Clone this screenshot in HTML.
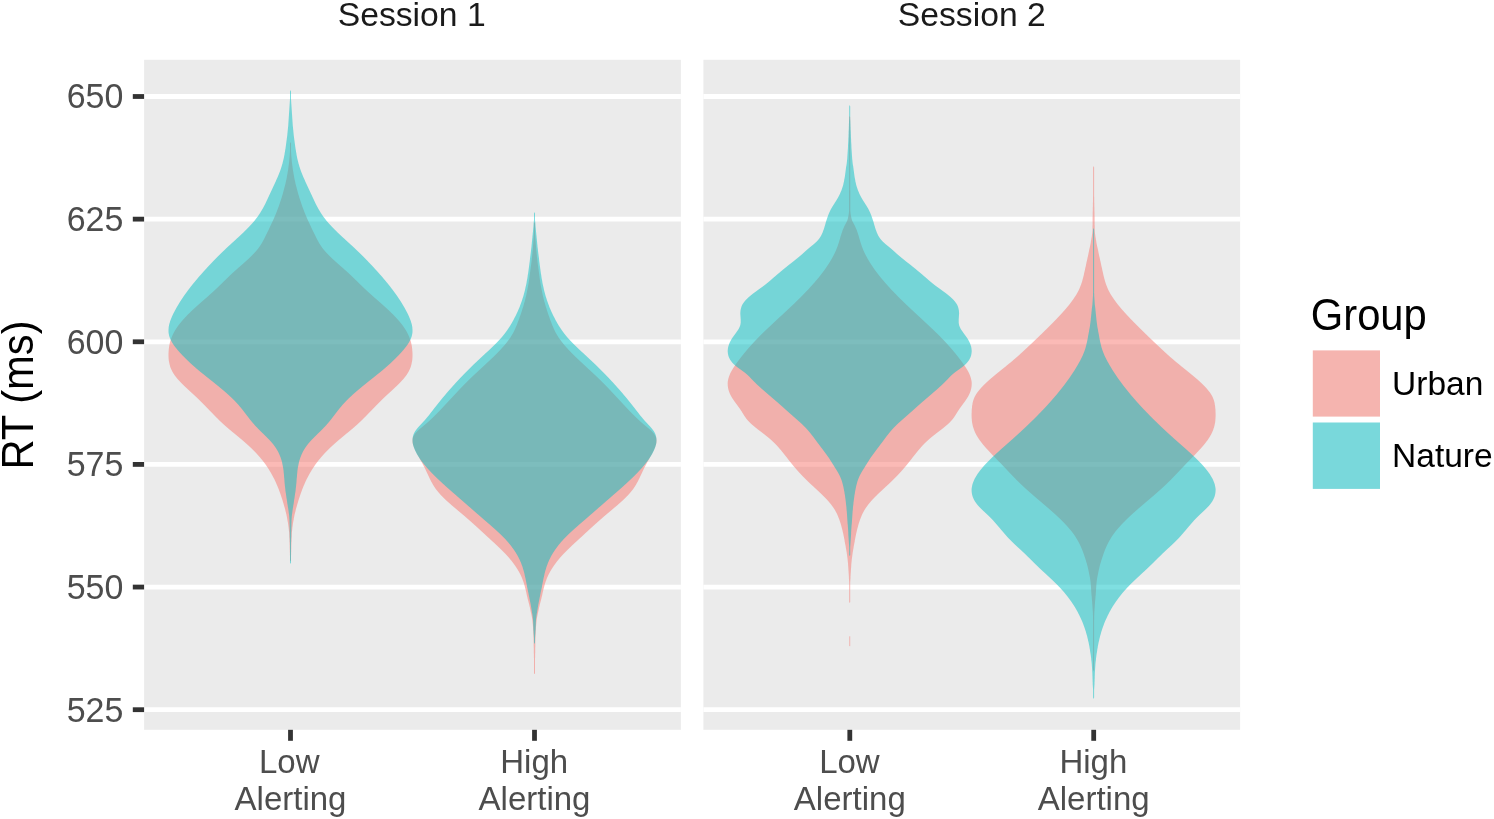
<!DOCTYPE html>
<html><head><meta charset="utf-8"><title>Violin plot</title>
<style>html,body{margin:0;padding:0;background:#fff}svg{display:block}</style></head>
<body>
<svg width="1494" height="819" viewBox="0 0 1494 819" font-family="'Liberation Sans', Arial, sans-serif">
<rect width="1494" height="819" fill="#fff"/>
<rect x="144.1" y="59.8" width="536.8" height="670.0" fill="#EBEBEB"/>
<line x1="144.1" x2="680.9" y1="96.50" y2="96.50" stroke="#fff" stroke-width="4.8"/>
<line x1="144.1" x2="680.9" y1="219.14" y2="219.14" stroke="#fff" stroke-width="4.8"/>
<line x1="144.1" x2="680.9" y1="341.78" y2="341.78" stroke="#fff" stroke-width="4.8"/>
<line x1="144.1" x2="680.9" y1="464.42" y2="464.42" stroke="#fff" stroke-width="4.8"/>
<line x1="144.1" x2="680.9" y1="587.06" y2="587.06" stroke="#fff" stroke-width="4.8"/>
<line x1="144.1" x2="680.9" y1="709.70" y2="709.70" stroke="#fff" stroke-width="4.8"/>
<rect x="703.4" y="59.8" width="536.7" height="670.0" fill="#EBEBEB"/>
<line x1="703.4" x2="1240.1" y1="96.50" y2="96.50" stroke="#fff" stroke-width="4.8"/>
<line x1="703.4" x2="1240.1" y1="219.14" y2="219.14" stroke="#fff" stroke-width="4.8"/>
<line x1="703.4" x2="1240.1" y1="341.78" y2="341.78" stroke="#fff" stroke-width="4.8"/>
<line x1="703.4" x2="1240.1" y1="464.42" y2="464.42" stroke="#fff" stroke-width="4.8"/>
<line x1="703.4" x2="1240.1" y1="587.06" y2="587.06" stroke="#fff" stroke-width="4.8"/>
<line x1="703.4" x2="1240.1" y1="709.70" y2="709.70" stroke="#fff" stroke-width="4.8"/>
<g fill-opacity="0.5" stroke="none">
<path d="M290.5,142.0 L290.0,143.5 L290.0,145.0 L290.0,146.5 L290.0,148.0 L290.0,149.5 L290.0,151.0 L289.9,152.5 L289.8,154.0 L289.7,155.5 L289.6,157.0 L289.4,158.5 L289.3,160.0 L289.2,161.5 L289.0,163.0 L288.8,164.5 L288.6,166.0 L288.4,167.5 L288.2,169.0 L288.0,170.5 L287.7,172.0 L287.5,173.5 L287.2,175.0 L286.9,176.5 L286.7,178.0 L286.4,179.5 L286.0,181.0 L285.7,182.5 L285.4,184.0 L285.0,185.5 L284.6,187.0 L284.2,188.5 L283.8,190.0 L283.4,191.5 L283.0,193.0 L282.6,194.5 L282.1,196.0 L281.7,197.5 L281.2,199.0 L280.7,200.5 L280.2,202.0 L279.7,203.5 L279.2,205.0 L278.7,206.5 L278.1,208.0 L277.5,209.5 L277.0,211.0 L276.4,212.5 L275.8,214.0 L275.2,215.5 L274.5,217.0 L273.9,218.5 L273.2,220.0 L272.5,221.5 L271.8,223.0 L271.1,224.5 L270.4,226.0 L269.7,227.5 L269.0,229.0 L268.3,230.5 L267.5,232.0 L266.8,233.5 L266.0,235.0 L265.3,236.5 L264.6,238.0 L263.8,239.5 L263.0,241.0 L262.2,242.5 L261.3,244.0 L260.3,245.5 L259.3,247.0 L258.2,248.5 L257.0,250.0 L255.7,251.5 L254.3,253.0 L252.9,254.5 L251.4,256.0 L249.9,257.5 L248.3,259.0 L246.6,260.5 L245.0,262.0 L243.3,263.5 L241.6,265.0 L239.9,266.5 L238.1,268.0 L236.5,269.5 L234.8,271.0 L233.1,272.5 L231.5,274.0 L229.9,275.5 L228.4,277.0 L226.8,278.5 L225.3,280.0 L223.7,281.5 L222.2,283.0 L220.7,284.5 L219.1,286.0 L217.6,287.5 L216.0,289.0 L214.4,290.5 L212.8,292.0 L211.1,293.5 L209.4,295.0 L207.8,296.5 L206.1,298.0 L204.3,299.5 L202.6,301.0 L200.9,302.5 L199.2,304.0 L197.5,305.5 L195.9,307.0 L194.2,308.5 L192.6,310.0 L191.0,311.5 L189.5,313.0 L187.9,314.5 L186.5,316.0 L185.1,317.5 L183.7,319.0 L182.4,320.5 L181.1,322.0 L179.9,323.5 L178.7,325.0 L177.6,326.5 L176.6,328.0 L175.6,329.5 L174.7,331.0 L173.9,332.5 L173.1,334.0 L172.4,335.5 L171.8,337.0 L171.2,338.5 L170.7,340.0 L170.2,341.5 L169.8,343.0 L169.5,344.5 L169.2,346.0 L169.0,347.5 L168.8,349.0 L168.7,350.5 L168.6,352.0 L168.5,353.5 L168.5,355.0 L168.5,356.5 L168.6,358.0 L168.7,359.5 L168.9,361.0 L169.2,362.5 L169.5,364.0 L169.9,365.5 L170.3,367.0 L170.9,368.5 L171.6,370.0 L172.3,371.5 L173.2,373.0 L174.1,374.5 L175.2,376.0 L176.4,377.5 L177.6,379.0 L179.0,380.5 L180.4,382.0 L181.8,383.5 L183.3,385.0 L184.9,386.5 L186.5,388.0 L188.1,389.5 L189.7,391.0 L191.3,392.5 L193.0,394.0 L194.6,395.5 L196.2,397.0 L197.8,398.5 L199.3,400.0 L200.8,401.5 L202.3,403.0 L203.8,404.5 L205.3,406.0 L206.7,407.5 L208.2,409.0 L209.6,410.5 L211.1,412.0 L212.6,413.5 L214.0,415.0 L215.5,416.5 L217.0,418.0 L218.5,419.5 L220.0,421.0 L221.6,422.5 L223.2,424.0 L224.9,425.5 L226.6,427.0 L228.3,428.5 L230.1,430.0 L231.9,431.5 L233.8,433.0 L235.6,434.5 L237.4,436.0 L239.2,437.5 L241.0,439.0 L242.8,440.5 L244.5,442.0 L246.2,443.5 L247.9,445.0 L249.5,446.5 L251.1,448.0 L252.6,449.5 L254.1,451.0 L255.6,452.5 L257.0,454.0 L258.3,455.5 L259.7,457.0 L260.9,458.5 L262.2,460.0 L263.3,461.5 L264.5,463.0 L265.6,464.5 L266.6,466.0 L267.6,467.5 L268.6,469.0 L269.5,470.5 L270.4,472.0 L271.3,473.5 L272.1,475.0 L272.9,476.5 L273.7,478.0 L274.5,479.5 L275.2,481.0 L275.9,482.5 L276.5,484.0 L277.2,485.5 L277.8,487.0 L278.4,488.5 L279.0,490.0 L279.5,491.5 L280.1,493.0 L280.6,494.5 L281.1,496.0 L281.6,497.5 L282.1,499.0 L282.6,500.5 L283.0,502.0 L283.5,503.5 L283.9,505.0 L284.3,506.5 L284.8,508.0 L285.2,509.5 L285.5,511.0 L285.9,512.5 L286.3,514.0 L286.6,515.5 L286.9,517.0 L287.2,518.5 L287.4,520.0 L287.7,521.5 L288.0,523.0 L288.2,524.5 L288.4,526.0 L288.6,527.5 L288.8,529.0 L288.9,530.5 L289.1,532.0 L289.2,533.5 L289.3,535.0 L289.3,536.5 L289.4,538.0 L289.5,539.5 L289.5,541.0 L289.6,542.5 L289.6,544.0 L289.7,545.5 L289.7,547.0 L289.7,548.5 L289.8,550.0 L289.8,551.5 L289.9,553.0 L289.9,554.5 L290.0,556.0 L290.0,557.5 L290.0,559.0 L290.0,560.5 L290.5,561.0 L290.5,561.0 L291.0,560.5 L291.0,559.0 L291.0,557.5 L291.0,556.0 L291.1,554.5 L291.1,553.0 L291.2,551.5 L291.2,550.0 L291.3,548.5 L291.3,547.0 L291.3,545.5 L291.4,544.0 L291.4,542.5 L291.5,541.0 L291.5,539.5 L291.6,538.0 L291.7,536.5 L291.7,535.0 L291.8,533.5 L291.9,532.0 L292.1,530.5 L292.2,529.0 L292.4,527.5 L292.6,526.0 L292.8,524.5 L293.0,523.0 L293.3,521.5 L293.6,520.0 L293.8,518.5 L294.1,517.0 L294.4,515.5 L294.7,514.0 L295.1,512.5 L295.5,511.0 L295.8,509.5 L296.2,508.0 L296.7,506.5 L297.1,505.0 L297.5,503.5 L298.0,502.0 L298.4,500.5 L298.9,499.0 L299.4,497.5 L299.9,496.0 L300.4,494.5 L300.9,493.0 L301.5,491.5 L302.0,490.0 L302.6,488.5 L303.2,487.0 L303.8,485.5 L304.5,484.0 L305.1,482.5 L305.8,481.0 L306.5,479.5 L307.3,478.0 L308.1,476.5 L308.9,475.0 L309.7,473.5 L310.6,472.0 L311.5,470.5 L312.4,469.0 L313.4,467.5 L314.4,466.0 L315.4,464.5 L316.5,463.0 L317.7,461.5 L318.8,460.0 L320.1,458.5 L321.3,457.0 L322.7,455.5 L324.0,454.0 L325.4,452.5 L326.9,451.0 L328.4,449.5 L329.9,448.0 L331.5,446.5 L333.1,445.0 L334.8,443.5 L336.5,442.0 L338.2,440.5 L340.0,439.0 L341.8,437.5 L343.6,436.0 L345.4,434.5 L347.2,433.0 L349.1,431.5 L350.9,430.0 L352.7,428.5 L354.4,427.0 L356.1,425.5 L357.8,424.0 L359.4,422.5 L361.0,421.0 L362.5,419.5 L364.0,418.0 L365.5,416.5 L367.0,415.0 L368.4,413.5 L369.9,412.0 L371.4,410.5 L372.8,409.0 L374.3,407.5 L375.7,406.0 L377.2,404.5 L378.7,403.0 L380.2,401.5 L381.7,400.0 L383.2,398.5 L384.8,397.0 L386.4,395.5 L388.0,394.0 L389.7,392.5 L391.3,391.0 L392.9,389.5 L394.5,388.0 L396.1,386.5 L397.7,385.0 L399.2,383.5 L400.6,382.0 L402.0,380.5 L403.4,379.0 L404.6,377.5 L405.8,376.0 L406.9,374.5 L407.8,373.0 L408.7,371.5 L409.4,370.0 L410.1,368.5 L410.7,367.0 L411.1,365.5 L411.5,364.0 L411.8,362.5 L412.1,361.0 L412.3,359.5 L412.4,358.0 L412.5,356.5 L412.5,355.0 L412.5,353.5 L412.4,352.0 L412.3,350.5 L412.2,349.0 L412.0,347.5 L411.8,346.0 L411.5,344.5 L411.2,343.0 L410.8,341.5 L410.3,340.0 L409.8,338.5 L409.2,337.0 L408.6,335.5 L407.9,334.0 L407.1,332.5 L406.3,331.0 L405.4,329.5 L404.4,328.0 L403.4,326.5 L402.3,325.0 L401.1,323.5 L399.9,322.0 L398.6,320.5 L397.3,319.0 L395.9,317.5 L394.5,316.0 L393.1,314.5 L391.5,313.0 L390.0,311.5 L388.4,310.0 L386.8,308.5 L385.1,307.0 L383.5,305.5 L381.8,304.0 L380.1,302.5 L378.4,301.0 L376.7,299.5 L374.9,298.0 L373.2,296.5 L371.6,295.0 L369.9,293.5 L368.2,292.0 L366.6,290.5 L365.0,289.0 L363.4,287.5 L361.9,286.0 L360.3,284.5 L358.8,283.0 L357.3,281.5 L355.7,280.0 L354.2,278.5 L352.6,277.0 L351.1,275.5 L349.5,274.0 L347.9,272.5 L346.2,271.0 L344.5,269.5 L342.9,268.0 L341.1,266.5 L339.4,265.0 L337.7,263.5 L336.0,262.0 L334.4,260.5 L332.7,259.0 L331.1,257.5 L329.6,256.0 L328.1,254.5 L326.7,253.0 L325.3,251.5 L324.0,250.0 L322.8,248.5 L321.7,247.0 L320.7,245.5 L319.7,244.0 L318.8,242.5 L318.0,241.0 L317.2,239.5 L316.4,238.0 L315.7,236.5 L315.0,235.0 L314.2,233.5 L313.5,232.0 L312.7,230.5 L312.0,229.0 L311.3,227.5 L310.6,226.0 L309.9,224.5 L309.2,223.0 L308.5,221.5 L307.8,220.0 L307.1,218.5 L306.5,217.0 L305.8,215.5 L305.2,214.0 L304.6,212.5 L304.0,211.0 L303.5,209.5 L302.9,208.0 L302.3,206.5 L301.8,205.0 L301.3,203.5 L300.8,202.0 L300.3,200.5 L299.8,199.0 L299.3,197.5 L298.9,196.0 L298.4,194.5 L298.0,193.0 L297.6,191.5 L297.2,190.0 L296.8,188.5 L296.4,187.0 L296.0,185.5 L295.6,184.0 L295.3,182.5 L295.0,181.0 L294.6,179.5 L294.3,178.0 L294.1,176.5 L293.8,175.0 L293.5,173.5 L293.3,172.0 L293.0,170.5 L292.8,169.0 L292.6,167.5 L292.4,166.0 L292.2,164.5 L292.0,163.0 L291.8,161.5 L291.7,160.0 L291.6,158.5 L291.4,157.0 L291.3,155.5 L291.2,154.0 L291.1,152.5 L291.0,151.0 L291.0,149.5 L291.0,148.0 L291.0,146.5 L291.0,145.0 L291.0,143.5 L290.5,142.0Z" fill="#F8766D"/>
<path d="M290.5,90.0 L290.0,91.5 L290.0,93.0 L290.0,94.5 L290.0,96.0 L290.0,97.5 L290.0,99.0 L289.9,100.5 L289.8,102.0 L289.7,103.5 L289.6,105.0 L289.5,106.5 L289.4,108.0 L289.3,109.5 L289.2,111.0 L289.1,112.5 L289.0,114.0 L288.9,115.5 L288.8,117.0 L288.7,118.5 L288.6,120.0 L288.5,121.5 L288.4,123.0 L288.3,124.5 L288.2,126.0 L288.0,127.5 L287.9,129.0 L287.7,130.5 L287.6,132.0 L287.4,133.5 L287.3,135.0 L287.1,136.5 L286.9,138.0 L286.7,139.5 L286.5,141.0 L286.3,142.5 L286.1,144.0 L285.9,145.5 L285.7,147.0 L285.5,148.5 L285.2,150.0 L285.0,151.5 L284.7,153.0 L284.5,154.5 L284.2,156.0 L283.9,157.5 L283.6,159.0 L283.2,160.5 L282.8,162.0 L282.5,163.5 L282.0,165.0 L281.6,166.5 L281.1,168.0 L280.6,169.5 L280.1,171.0 L279.5,172.5 L278.9,174.0 L278.3,175.5 L277.7,177.0 L277.0,178.5 L276.3,180.0 L275.7,181.5 L275.0,183.0 L274.3,184.5 L273.6,186.0 L272.9,187.5 L272.2,189.0 L271.5,190.5 L270.8,192.0 L270.1,193.5 L269.4,195.0 L268.7,196.5 L268.0,198.0 L267.3,199.5 L266.6,201.0 L265.9,202.5 L265.2,204.0 L264.4,205.5 L263.6,207.0 L262.8,208.5 L261.9,210.0 L261.0,211.5 L260.1,213.0 L259.1,214.5 L258.1,216.0 L257.0,217.5 L255.8,219.0 L254.7,220.5 L253.4,222.0 L252.1,223.5 L250.7,225.0 L249.3,226.5 L247.9,228.0 L246.4,229.5 L244.9,231.0 L243.4,232.5 L241.8,234.0 L240.2,235.5 L238.6,237.0 L236.9,238.5 L235.3,240.0 L233.7,241.5 L232.0,243.0 L230.4,244.5 L228.7,246.0 L227.1,247.5 L225.5,249.0 L224.0,250.5 L222.4,252.0 L220.9,253.5 L219.3,255.0 L217.8,256.5 L216.3,258.0 L214.9,259.5 L213.4,261.0 L212.0,262.5 L210.6,264.0 L209.1,265.5 L207.7,267.0 L206.4,268.5 L205.0,270.0 L203.6,271.5 L202.3,273.0 L201.0,274.5 L199.6,276.0 L198.3,277.5 L197.1,279.0 L195.8,280.5 L194.6,282.0 L193.3,283.5 L192.1,285.0 L190.9,286.5 L189.8,288.0 L188.6,289.5 L187.5,291.0 L186.4,292.5 L185.3,294.0 L184.2,295.5 L183.2,297.0 L182.2,298.5 L181.2,300.0 L180.2,301.5 L179.3,303.0 L178.4,304.5 L177.5,306.0 L176.6,307.5 L175.8,309.0 L175.0,310.5 L174.2,312.0 L173.4,313.5 L172.7,315.0 L172.0,316.5 L171.4,318.0 L170.8,319.5 L170.2,321.0 L169.8,322.5 L169.3,324.0 L169.0,325.5 L168.7,327.0 L168.6,328.5 L168.5,330.0 L168.5,331.5 L168.6,333.0 L168.9,334.5 L169.2,336.0 L169.7,337.5 L170.3,339.0 L171.0,340.5 L171.8,342.0 L172.7,343.5 L173.7,345.0 L174.8,346.5 L176.0,348.0 L177.2,349.5 L178.5,351.0 L179.8,352.5 L181.2,354.0 L182.6,355.5 L184.1,357.0 L185.6,358.5 L187.1,360.0 L188.7,361.5 L190.2,363.0 L191.9,364.5 L193.6,366.0 L195.3,367.5 L197.0,369.0 L198.8,370.5 L200.6,372.0 L202.5,373.5 L204.4,375.0 L206.2,376.5 L208.1,378.0 L210.0,379.5 L211.9,381.0 L213.8,382.5 L215.6,384.0 L217.5,385.5 L219.3,387.0 L221.1,388.5 L222.9,390.0 L224.7,391.5 L226.4,393.0 L228.1,394.5 L229.7,396.0 L231.3,397.5 L232.9,399.0 L234.4,400.5 L235.8,402.0 L237.2,403.5 L238.6,405.0 L239.8,406.5 L241.1,408.0 L242.3,409.5 L243.5,411.0 L244.6,412.5 L245.8,414.0 L246.9,415.5 L248.1,417.0 L249.2,418.5 L250.4,420.0 L251.6,421.5 L252.9,423.0 L254.2,424.5 L255.5,426.0 L257.0,427.5 L258.4,429.0 L259.9,430.5 L261.4,432.0 L263.0,433.5 L264.5,435.0 L266.0,436.5 L267.5,438.0 L269.0,439.5 L270.4,441.0 L271.7,442.5 L273.0,444.0 L274.1,445.5 L275.2,447.0 L276.2,448.5 L277.1,450.0 L278.0,451.5 L278.7,453.0 L279.4,454.5 L280.0,456.0 L280.6,457.5 L281.1,459.0 L281.6,460.5 L282.0,462.0 L282.3,463.5 L282.6,465.0 L282.9,466.5 L283.2,468.0 L283.4,469.5 L283.6,471.0 L283.7,472.5 L283.9,474.0 L284.0,475.5 L284.1,477.0 L284.3,478.5 L284.4,480.0 L284.5,481.5 L284.6,483.0 L284.8,484.5 L284.9,486.0 L285.1,487.5 L285.3,489.0 L285.4,490.5 L285.6,492.0 L285.9,493.5 L286.1,495.0 L286.3,496.5 L286.5,498.0 L286.8,499.5 L287.0,501.0 L287.2,502.5 L287.4,504.0 L287.7,505.5 L287.9,507.0 L288.2,508.5 L288.4,510.0 L288.6,511.5 L288.8,513.0 L289.0,514.5 L289.2,516.0 L289.3,517.5 L289.4,519.0 L289.5,520.5 L289.5,522.0 L289.6,523.5 L289.6,525.0 L289.6,526.5 L289.7,528.0 L289.7,529.5 L289.7,531.0 L289.8,532.5 L289.8,534.0 L289.8,535.5 L289.8,537.0 L289.9,538.5 L289.9,540.0 L289.9,541.5 L290.0,543.0 L290.0,544.5 L290.0,546.0 L290.0,547.5 L290.0,549.0 L290.0,550.5 L290.0,552.0 L290.0,553.5 L290.0,555.0 L290.0,556.5 L290.0,558.0 L290.0,559.5 L290.0,561.0 L290.0,562.5 L290.5,564.0 L290.5,564.0 L291.0,562.5 L291.0,561.0 L291.0,559.5 L291.0,558.0 L291.0,556.5 L291.0,555.0 L291.0,553.5 L291.0,552.0 L291.0,550.5 L291.0,549.0 L291.0,547.5 L291.0,546.0 L291.0,544.5 L291.0,543.0 L291.1,541.5 L291.1,540.0 L291.1,538.5 L291.2,537.0 L291.2,535.5 L291.2,534.0 L291.2,532.5 L291.3,531.0 L291.3,529.5 L291.3,528.0 L291.4,526.5 L291.4,525.0 L291.4,523.5 L291.5,522.0 L291.5,520.5 L291.6,519.0 L291.7,517.5 L291.8,516.0 L292.0,514.5 L292.2,513.0 L292.4,511.5 L292.6,510.0 L292.8,508.5 L293.1,507.0 L293.3,505.5 L293.6,504.0 L293.8,502.5 L294.0,501.0 L294.2,499.5 L294.5,498.0 L294.7,496.5 L294.9,495.0 L295.1,493.5 L295.4,492.0 L295.6,490.5 L295.7,489.0 L295.9,487.5 L296.1,486.0 L296.2,484.5 L296.4,483.0 L296.5,481.5 L296.6,480.0 L296.7,478.5 L296.9,477.0 L297.0,475.5 L297.1,474.0 L297.3,472.5 L297.4,471.0 L297.6,469.5 L297.8,468.0 L298.1,466.5 L298.4,465.0 L298.7,463.5 L299.0,462.0 L299.4,460.5 L299.9,459.0 L300.4,457.5 L301.0,456.0 L301.6,454.5 L302.3,453.0 L303.0,451.5 L303.9,450.0 L304.8,448.5 L305.8,447.0 L306.9,445.5 L308.0,444.0 L309.3,442.5 L310.6,441.0 L312.0,439.5 L313.5,438.0 L315.0,436.5 L316.5,435.0 L318.0,433.5 L319.6,432.0 L321.1,430.5 L322.6,429.0 L324.0,427.5 L325.5,426.0 L326.8,424.5 L328.1,423.0 L329.4,421.5 L330.6,420.0 L331.8,418.5 L332.9,417.0 L334.1,415.5 L335.2,414.0 L336.4,412.5 L337.5,411.0 L338.7,409.5 L339.9,408.0 L341.2,406.5 L342.4,405.0 L343.8,403.5 L345.2,402.0 L346.6,400.5 L348.1,399.0 L349.7,397.5 L351.3,396.0 L352.9,394.5 L354.6,393.0 L356.3,391.5 L358.1,390.0 L359.9,388.5 L361.7,387.0 L363.5,385.5 L365.4,384.0 L367.2,382.5 L369.1,381.0 L371.0,379.5 L372.9,378.0 L374.8,376.5 L376.6,375.0 L378.5,373.5 L380.4,372.0 L382.2,370.5 L384.0,369.0 L385.7,367.5 L387.4,366.0 L389.1,364.5 L390.8,363.0 L392.3,361.5 L393.9,360.0 L395.4,358.5 L396.9,357.0 L398.4,355.5 L399.8,354.0 L401.2,352.5 L402.5,351.0 L403.8,349.5 L405.0,348.0 L406.2,346.5 L407.3,345.0 L408.3,343.5 L409.2,342.0 L410.0,340.5 L410.7,339.0 L411.3,337.5 L411.8,336.0 L412.1,334.5 L412.4,333.0 L412.5,331.5 L412.5,330.0 L412.4,328.5 L412.3,327.0 L412.0,325.5 L411.7,324.0 L411.2,322.5 L410.8,321.0 L410.2,319.5 L409.6,318.0 L409.0,316.5 L408.3,315.0 L407.6,313.5 L406.8,312.0 L406.0,310.5 L405.2,309.0 L404.4,307.5 L403.5,306.0 L402.6,304.5 L401.7,303.0 L400.8,301.5 L399.8,300.0 L398.8,298.5 L397.8,297.0 L396.8,295.5 L395.7,294.0 L394.6,292.5 L393.5,291.0 L392.4,289.5 L391.2,288.0 L390.1,286.5 L388.9,285.0 L387.7,283.5 L386.4,282.0 L385.2,280.5 L383.9,279.0 L382.7,277.5 L381.4,276.0 L380.0,274.5 L378.7,273.0 L377.4,271.5 L376.0,270.0 L374.6,268.5 L373.3,267.0 L371.9,265.5 L370.4,264.0 L369.0,262.5 L367.6,261.0 L366.1,259.5 L364.7,258.0 L363.2,256.5 L361.7,255.0 L360.1,253.5 L358.6,252.0 L357.0,250.5 L355.5,249.0 L353.9,247.5 L352.3,246.0 L350.6,244.5 L349.0,243.0 L347.3,241.5 L345.7,240.0 L344.1,238.5 L342.4,237.0 L340.8,235.5 L339.2,234.0 L337.6,232.5 L336.1,231.0 L334.6,229.5 L333.1,228.0 L331.7,226.5 L330.3,225.0 L328.9,223.5 L327.6,222.0 L326.3,220.5 L325.2,219.0 L324.0,217.5 L322.9,216.0 L321.9,214.5 L320.9,213.0 L320.0,211.5 L319.1,210.0 L318.2,208.5 L317.4,207.0 L316.6,205.5 L315.8,204.0 L315.1,202.5 L314.4,201.0 L313.7,199.5 L313.0,198.0 L312.3,196.5 L311.6,195.0 L310.9,193.5 L310.2,192.0 L309.5,190.5 L308.8,189.0 L308.1,187.5 L307.4,186.0 L306.7,184.5 L306.0,183.0 L305.3,181.5 L304.7,180.0 L304.0,178.5 L303.3,177.0 L302.7,175.5 L302.1,174.0 L301.5,172.5 L300.9,171.0 L300.4,169.5 L299.9,168.0 L299.4,166.5 L299.0,165.0 L298.5,163.5 L298.2,162.0 L297.8,160.5 L297.4,159.0 L297.1,157.5 L296.8,156.0 L296.5,154.5 L296.3,153.0 L296.0,151.5 L295.8,150.0 L295.5,148.5 L295.3,147.0 L295.1,145.5 L294.9,144.0 L294.7,142.5 L294.5,141.0 L294.3,139.5 L294.1,138.0 L293.9,136.5 L293.7,135.0 L293.6,133.5 L293.4,132.0 L293.3,130.5 L293.1,129.0 L293.0,127.5 L292.8,126.0 L292.7,124.5 L292.6,123.0 L292.5,121.5 L292.4,120.0 L292.3,118.5 L292.2,117.0 L292.1,115.5 L292.0,114.0 L291.9,112.5 L291.8,111.0 L291.7,109.5 L291.6,108.0 L291.5,106.5 L291.4,105.0 L291.3,103.5 L291.2,102.0 L291.1,100.5 L291.0,99.0 L291.0,97.5 L291.0,96.0 L291.0,94.5 L291.0,93.0 L291.0,91.5 L290.5,90.0Z" fill="#00BFC4"/>
<path d="M534.5,222.0 L534.0,223.5 L534.0,225.0 L534.0,226.5 L534.0,228.0 L534.0,229.5 L534.0,231.0 L534.0,232.5 L533.9,234.0 L533.8,235.5 L533.7,237.0 L533.6,238.5 L533.5,240.0 L533.4,241.5 L533.3,243.0 L533.2,244.5 L533.0,246.0 L532.9,247.5 L532.8,249.0 L532.7,250.5 L532.5,252.0 L532.4,253.5 L532.2,255.0 L532.1,256.5 L531.9,258.0 L531.7,259.5 L531.6,261.0 L531.4,262.5 L531.2,264.0 L531.0,265.5 L530.8,267.0 L530.6,268.5 L530.4,270.0 L530.2,271.5 L530.0,273.0 L529.8,274.5 L529.6,276.0 L529.4,277.5 L529.2,279.0 L529.0,280.5 L528.8,282.0 L528.5,283.5 L528.3,285.0 L528.0,286.5 L527.7,288.0 L527.4,289.5 L527.1,291.0 L526.8,292.5 L526.5,294.0 L526.2,295.5 L525.8,297.0 L525.4,298.5 L525.1,300.0 L524.7,301.5 L524.2,303.0 L523.8,304.5 L523.4,306.0 L522.9,307.5 L522.4,309.0 L522.0,310.5 L521.5,312.0 L521.0,313.5 L520.5,315.0 L519.9,316.5 L519.4,318.0 L518.9,319.5 L518.3,321.0 L517.7,322.5 L517.2,324.0 L516.6,325.5 L515.9,327.0 L515.3,328.5 L514.6,330.0 L513.9,331.5 L513.1,333.0 L512.2,334.5 L511.3,336.0 L510.4,337.5 L509.3,339.0 L508.2,340.5 L507.1,342.0 L505.9,343.5 L504.7,345.0 L503.4,346.5 L502.0,348.0 L500.7,349.5 L499.2,351.0 L497.8,352.5 L496.3,354.0 L494.8,355.5 L493.3,357.0 L491.7,358.5 L490.1,360.0 L488.5,361.5 L486.9,363.0 L485.3,364.5 L483.7,366.0 L482.1,367.5 L480.5,369.0 L478.8,370.5 L477.2,372.0 L475.6,373.5 L474.0,375.0 L472.4,376.5 L470.9,378.0 L469.3,379.5 L467.8,381.0 L466.3,382.5 L464.8,384.0 L463.3,385.5 L461.9,387.0 L460.4,388.5 L459.0,390.0 L457.6,391.5 L456.2,393.0 L454.8,394.5 L453.4,396.0 L452.0,397.5 L450.6,399.0 L449.2,400.5 L447.8,402.0 L446.4,403.5 L445.0,405.0 L443.6,406.5 L442.2,408.0 L440.8,409.5 L439.4,411.0 L437.9,412.5 L436.4,414.0 L434.9,415.5 L433.4,417.0 L431.8,418.5 L430.2,420.0 L428.6,421.5 L426.9,423.0 L425.1,424.5 L423.3,426.0 L421.5,427.5 L419.7,429.0 L418.0,430.5 L416.5,432.0 L415.2,433.5 L414.2,435.0 L413.4,436.5 L412.8,438.0 L412.6,439.5 L412.5,441.0 L412.6,442.5 L412.9,444.0 L413.4,445.5 L413.9,447.0 L414.5,448.5 L415.2,450.0 L415.9,451.5 L416.7,453.0 L417.4,454.5 L418.3,456.0 L419.1,457.5 L419.9,459.0 L420.7,460.5 L421.6,462.0 L422.4,463.5 L423.2,465.0 L424.0,466.5 L424.8,468.0 L425.5,469.5 L426.2,471.0 L426.9,472.5 L427.6,474.0 L428.3,475.5 L429.0,477.0 L429.7,478.5 L430.5,480.0 L431.2,481.5 L432.1,483.0 L432.9,484.5 L433.8,486.0 L434.8,487.5 L435.8,489.0 L437.0,490.5 L438.2,492.0 L439.5,493.5 L440.8,495.0 L442.3,496.5 L443.8,498.0 L445.3,499.5 L446.9,501.0 L448.6,502.5 L450.3,504.0 L452.0,505.5 L453.8,507.0 L455.6,508.5 L457.3,510.0 L459.1,511.5 L460.9,513.0 L462.7,514.5 L464.5,516.0 L466.2,517.5 L467.9,519.0 L469.6,520.5 L471.3,522.0 L473.0,523.5 L474.7,525.0 L476.3,526.5 L478.0,528.0 L479.6,529.5 L481.2,531.0 L482.9,532.5 L484.5,534.0 L486.1,535.5 L487.7,537.0 L489.4,538.5 L491.0,540.0 L492.6,541.5 L494.3,543.0 L495.9,544.5 L497.5,546.0 L499.0,547.5 L500.6,549.0 L502.1,550.5 L503.6,552.0 L505.1,553.5 L506.5,555.0 L507.9,556.5 L509.2,558.0 L510.4,559.5 L511.7,561.0 L512.8,562.5 L513.9,564.0 L515.0,565.5 L516.0,567.0 L517.0,568.5 L517.9,570.0 L518.8,571.5 L519.6,573.0 L520.4,574.5 L521.1,576.0 L521.8,577.5 L522.4,579.0 L522.9,580.5 L523.5,582.0 L524.0,583.5 L524.4,585.0 L524.8,586.5 L525.2,588.0 L525.6,589.5 L525.9,591.0 L526.3,592.5 L526.6,594.0 L526.9,595.5 L527.3,597.0 L527.6,598.5 L528.0,600.0 L528.4,601.5 L528.8,603.0 L529.2,604.5 L529.5,606.0 L529.9,607.5 L530.2,609.0 L530.5,610.5 L530.8,612.0 L531.2,613.5 L531.5,615.0 L531.8,616.5 L532.1,618.0 L532.3,619.5 L532.5,621.0 L532.6,622.5 L532.8,624.0 L532.9,625.5 L533.0,627.0 L533.1,628.5 L533.2,630.0 L533.3,631.5 L533.3,633.0 L533.4,634.5 L533.5,636.0 L533.5,637.5 L533.6,639.0 L533.6,640.5 L533.7,642.0 L533.7,643.5 L533.7,645.0 L533.7,646.5 L533.8,648.0 L533.8,649.5 L533.8,651.0 L533.8,652.5 L533.9,654.0 L533.9,655.5 L533.9,657.0 L534.0,658.5 L534.0,660.0 L534.0,661.5 L534.0,663.0 L534.0,664.5 L534.0,666.0 L534.0,667.5 L534.0,669.0 L534.0,670.5 L534.0,672.0 L534.0,673.5 L534.5,674.0 L534.5,674.0 L535.0,673.5 L535.0,672.0 L535.0,670.5 L535.0,669.0 L535.0,667.5 L535.0,666.0 L535.0,664.5 L535.0,663.0 L535.0,661.5 L535.0,660.0 L535.0,658.5 L535.1,657.0 L535.1,655.5 L535.1,654.0 L535.2,652.5 L535.2,651.0 L535.2,649.5 L535.2,648.0 L535.3,646.5 L535.3,645.0 L535.3,643.5 L535.3,642.0 L535.4,640.5 L535.4,639.0 L535.5,637.5 L535.5,636.0 L535.6,634.5 L535.7,633.0 L535.7,631.5 L535.8,630.0 L535.9,628.5 L536.0,627.0 L536.1,625.5 L536.2,624.0 L536.4,622.5 L536.5,621.0 L536.7,619.5 L536.9,618.0 L537.2,616.5 L537.5,615.0 L537.8,613.5 L538.2,612.0 L538.5,610.5 L538.8,609.0 L539.1,607.5 L539.5,606.0 L539.8,604.5 L540.2,603.0 L540.6,601.5 L541.0,600.0 L541.4,598.5 L541.7,597.0 L542.1,595.5 L542.4,594.0 L542.7,592.5 L543.1,591.0 L543.4,589.5 L543.8,588.0 L544.2,586.5 L544.6,585.0 L545.0,583.5 L545.5,582.0 L546.1,580.5 L546.6,579.0 L547.2,577.5 L547.9,576.0 L548.6,574.5 L549.4,573.0 L550.2,571.5 L551.1,570.0 L552.0,568.5 L553.0,567.0 L554.0,565.5 L555.1,564.0 L556.2,562.5 L557.3,561.0 L558.6,559.5 L559.8,558.0 L561.1,556.5 L562.5,555.0 L563.9,553.5 L565.4,552.0 L566.9,550.5 L568.4,549.0 L570.0,547.5 L571.5,546.0 L573.1,544.5 L574.7,543.0 L576.4,541.5 L578.0,540.0 L579.6,538.5 L581.3,537.0 L582.9,535.5 L584.5,534.0 L586.1,532.5 L587.8,531.0 L589.4,529.5 L591.0,528.0 L592.7,526.5 L594.3,525.0 L596.0,523.5 L597.7,522.0 L599.4,520.5 L601.1,519.0 L602.8,517.5 L604.5,516.0 L606.3,514.5 L608.1,513.0 L609.9,511.5 L611.7,510.0 L613.4,508.5 L615.2,507.0 L617.0,505.5 L618.7,504.0 L620.4,502.5 L622.1,501.0 L623.7,499.5 L625.2,498.0 L626.7,496.5 L628.2,495.0 L629.5,493.5 L630.8,492.0 L632.0,490.5 L633.2,489.0 L634.2,487.5 L635.2,486.0 L636.1,484.5 L636.9,483.0 L637.8,481.5 L638.5,480.0 L639.3,478.5 L640.0,477.0 L640.7,475.5 L641.4,474.0 L642.1,472.5 L642.8,471.0 L643.5,469.5 L644.2,468.0 L645.0,466.5 L645.8,465.0 L646.6,463.5 L647.4,462.0 L648.3,460.5 L649.1,459.0 L649.9,457.5 L650.7,456.0 L651.6,454.5 L652.3,453.0 L653.1,451.5 L653.8,450.0 L654.5,448.5 L655.1,447.0 L655.6,445.5 L656.1,444.0 L656.4,442.5 L656.5,441.0 L656.4,439.5 L656.2,438.0 L655.6,436.5 L654.8,435.0 L653.8,433.5 L652.5,432.0 L651.0,430.5 L649.3,429.0 L647.5,427.5 L645.7,426.0 L643.9,424.5 L642.1,423.0 L640.4,421.5 L638.8,420.0 L637.2,418.5 L635.6,417.0 L634.1,415.5 L632.6,414.0 L631.1,412.5 L629.6,411.0 L628.2,409.5 L626.8,408.0 L625.4,406.5 L624.0,405.0 L622.6,403.5 L621.2,402.0 L619.8,400.5 L618.4,399.0 L617.0,397.5 L615.6,396.0 L614.2,394.5 L612.8,393.0 L611.4,391.5 L610.0,390.0 L608.6,388.5 L607.1,387.0 L605.7,385.5 L604.2,384.0 L602.7,382.5 L601.2,381.0 L599.7,379.5 L598.1,378.0 L596.6,376.5 L595.0,375.0 L593.4,373.5 L591.8,372.0 L590.2,370.5 L588.5,369.0 L586.9,367.5 L585.3,366.0 L583.7,364.5 L582.1,363.0 L580.5,361.5 L578.9,360.0 L577.3,358.5 L575.7,357.0 L574.2,355.5 L572.7,354.0 L571.2,352.5 L569.8,351.0 L568.3,349.5 L567.0,348.0 L565.6,346.5 L564.3,345.0 L563.1,343.5 L561.9,342.0 L560.8,340.5 L559.7,339.0 L558.6,337.5 L557.7,336.0 L556.8,334.5 L555.9,333.0 L555.1,331.5 L554.4,330.0 L553.7,328.5 L553.1,327.0 L552.4,325.5 L551.8,324.0 L551.3,322.5 L550.7,321.0 L550.1,319.5 L549.6,318.0 L549.1,316.5 L548.5,315.0 L548.0,313.5 L547.5,312.0 L547.0,310.5 L546.6,309.0 L546.1,307.5 L545.6,306.0 L545.2,304.5 L544.8,303.0 L544.3,301.5 L543.9,300.0 L543.6,298.5 L543.2,297.0 L542.8,295.5 L542.5,294.0 L542.2,292.5 L541.9,291.0 L541.6,289.5 L541.3,288.0 L541.0,286.5 L540.7,285.0 L540.5,283.5 L540.2,282.0 L540.0,280.5 L539.8,279.0 L539.6,277.5 L539.4,276.0 L539.2,274.5 L539.0,273.0 L538.8,271.5 L538.6,270.0 L538.4,268.5 L538.2,267.0 L538.0,265.5 L537.8,264.0 L537.6,262.5 L537.4,261.0 L537.3,259.5 L537.1,258.0 L536.9,256.5 L536.8,255.0 L536.6,253.5 L536.5,252.0 L536.3,250.5 L536.2,249.0 L536.1,247.5 L536.0,246.0 L535.8,244.5 L535.7,243.0 L535.6,241.5 L535.5,240.0 L535.4,238.5 L535.3,237.0 L535.2,235.5 L535.1,234.0 L535.0,232.5 L535.0,231.0 L535.0,229.5 L535.0,228.0 L535.0,226.5 L535.0,225.0 L535.0,223.5 L534.5,222.0Z" fill="#F8766D"/>
<path d="M534.5,212.0 L534.0,213.5 L534.0,215.0 L534.0,216.5 L534.0,218.0 L534.0,219.5 L533.9,221.0 L533.7,222.5 L533.6,224.0 L533.5,225.5 L533.4,227.0 L533.2,228.5 L533.1,230.0 L533.0,231.5 L532.8,233.0 L532.7,234.5 L532.5,236.0 L532.4,237.5 L532.2,239.0 L532.1,240.5 L531.9,242.0 L531.8,243.5 L531.6,245.0 L531.5,246.5 L531.3,248.0 L531.1,249.5 L531.0,251.0 L530.8,252.5 L530.6,254.0 L530.4,255.5 L530.2,257.0 L530.0,258.5 L529.9,260.0 L529.7,261.5 L529.5,263.0 L529.3,264.5 L529.1,266.0 L528.9,267.5 L528.7,269.0 L528.5,270.5 L528.3,272.0 L528.1,273.5 L527.8,275.0 L527.6,276.5 L527.4,278.0 L527.1,279.5 L526.8,281.0 L526.6,282.5 L526.3,284.0 L526.0,285.5 L525.6,287.0 L525.3,288.5 L525.0,290.0 L524.6,291.5 L524.2,293.0 L523.8,294.5 L523.4,296.0 L522.9,297.5 L522.4,299.0 L522.0,300.5 L521.4,302.0 L520.9,303.5 L520.3,305.0 L519.8,306.5 L519.2,308.0 L518.5,309.5 L517.9,311.0 L517.2,312.5 L516.5,314.0 L515.8,315.5 L515.0,317.0 L514.2,318.5 L513.5,320.0 L512.6,321.5 L511.8,323.0 L510.9,324.5 L510.0,326.0 L509.0,327.5 L508.0,329.0 L507.0,330.5 L505.9,332.0 L504.8,333.5 L503.6,335.0 L502.4,336.5 L501.1,338.0 L499.7,339.5 L498.3,341.0 L496.9,342.5 L495.4,344.0 L493.9,345.5 L492.3,347.0 L490.8,348.5 L489.2,350.0 L487.6,351.5 L485.9,353.0 L484.3,354.5 L482.7,356.0 L481.1,357.5 L479.5,359.0 L477.9,360.5 L476.3,362.0 L474.7,363.5 L473.1,365.0 L471.6,366.5 L470.1,368.0 L468.6,369.5 L467.1,371.0 L465.6,372.5 L464.1,374.0 L462.7,375.5 L461.2,377.0 L459.8,378.5 L458.4,380.0 L457.0,381.5 L455.6,383.0 L454.3,384.5 L452.9,386.0 L451.6,387.5 L450.2,389.0 L448.9,390.5 L447.6,392.0 L446.3,393.5 L445.1,395.0 L443.8,396.5 L442.5,398.0 L441.3,399.5 L440.1,401.0 L438.9,402.5 L437.7,404.0 L436.5,405.5 L435.3,407.0 L434.1,408.5 L433.0,410.0 L431.8,411.5 L430.6,413.0 L429.5,414.5 L428.3,416.0 L427.0,417.5 L425.8,419.0 L424.5,420.5 L423.1,422.0 L421.7,423.5 L420.3,425.0 L418.9,426.5 L417.6,428.0 L416.4,429.5 L415.3,431.0 L414.4,432.5 L413.7,434.0 L413.2,435.5 L412.8,437.0 L412.6,438.5 L412.5,440.0 L412.6,441.5 L412.7,443.0 L413.0,444.5 L413.4,446.0 L413.9,447.5 L414.5,449.0 L415.1,450.5 L415.9,452.0 L416.6,453.5 L417.5,455.0 L418.4,456.5 L419.4,458.0 L420.4,459.5 L421.5,461.0 L422.6,462.5 L423.8,464.0 L425.0,465.5 L426.3,467.0 L427.6,468.5 L429.0,470.0 L430.4,471.5 L431.8,473.0 L433.3,474.5 L434.8,476.0 L436.3,477.5 L437.9,479.0 L439.5,480.5 L441.1,482.0 L442.7,483.5 L444.4,485.0 L446.0,486.5 L447.7,488.0 L449.4,489.5 L451.1,491.0 L452.8,492.5 L454.6,494.0 L456.3,495.5 L458.0,497.0 L459.7,498.5 L461.5,500.0 L463.2,501.5 L464.9,503.0 L466.6,504.5 L468.3,506.0 L470.1,507.5 L471.8,509.0 L473.5,510.5 L475.2,512.0 L476.9,513.5 L478.7,515.0 L480.4,516.5 L482.1,518.0 L483.8,519.5 L485.6,521.0 L487.3,522.5 L489.1,524.0 L490.8,525.5 L492.5,527.0 L494.2,528.5 L495.9,530.0 L497.5,531.5 L499.1,533.0 L500.7,534.5 L502.2,536.0 L503.7,537.5 L505.2,539.0 L506.5,540.5 L507.9,542.0 L509.1,543.5 L510.4,545.0 L511.5,546.5 L512.6,548.0 L513.7,549.5 L514.7,551.0 L515.7,552.5 L516.6,554.0 L517.5,555.5 L518.3,557.0 L519.0,558.5 L519.8,560.0 L520.4,561.5 L521.1,563.0 L521.6,564.5 L522.2,566.0 L522.7,567.5 L523.1,569.0 L523.6,570.5 L524.0,572.0 L524.4,573.5 L524.7,575.0 L525.0,576.5 L525.4,578.0 L525.7,579.5 L526.0,581.0 L526.3,582.5 L526.6,584.0 L526.9,585.5 L527.1,587.0 L527.4,588.5 L527.8,590.0 L528.1,591.5 L528.4,593.0 L528.7,594.5 L529.0,596.0 L529.3,597.5 L529.6,599.0 L529.9,600.5 L530.2,602.0 L530.5,603.5 L530.8,605.0 L531.0,606.5 L531.3,608.0 L531.5,609.5 L531.8,611.0 L532.0,612.5 L532.3,614.0 L532.5,615.5 L532.7,617.0 L532.9,618.5 L533.0,620.0 L533.1,621.5 L533.2,623.0 L533.2,624.5 L533.3,626.0 L533.4,627.5 L533.4,629.0 L533.5,630.5 L533.6,632.0 L533.7,633.5 L533.8,635.0 L533.9,636.5 L534.0,638.0 L534.0,639.5 L534.0,641.0 L534.0,642.5 L534.5,644.0 L534.5,644.0 L535.0,642.5 L535.0,641.0 L535.0,639.5 L535.0,638.0 L535.1,636.5 L535.2,635.0 L535.3,633.5 L535.4,632.0 L535.5,630.5 L535.6,629.0 L535.6,627.5 L535.7,626.0 L535.8,624.5 L535.8,623.0 L535.9,621.5 L536.0,620.0 L536.1,618.5 L536.3,617.0 L536.5,615.5 L536.7,614.0 L537.0,612.5 L537.2,611.0 L537.5,609.5 L537.7,608.0 L538.0,606.5 L538.2,605.0 L538.5,603.5 L538.8,602.0 L539.1,600.5 L539.4,599.0 L539.7,597.5 L540.0,596.0 L540.3,594.5 L540.6,593.0 L540.9,591.5 L541.2,590.0 L541.6,588.5 L541.9,587.0 L542.1,585.5 L542.4,584.0 L542.7,582.5 L543.0,581.0 L543.3,579.5 L543.6,578.0 L544.0,576.5 L544.3,575.0 L544.6,573.5 L545.0,572.0 L545.4,570.5 L545.9,569.0 L546.3,567.5 L546.8,566.0 L547.4,564.5 L547.9,563.0 L548.6,561.5 L549.2,560.0 L550.0,558.5 L550.7,557.0 L551.5,555.5 L552.4,554.0 L553.3,552.5 L554.3,551.0 L555.3,549.5 L556.4,548.0 L557.5,546.5 L558.6,545.0 L559.9,543.5 L561.1,542.0 L562.5,540.5 L563.8,539.0 L565.3,537.5 L566.8,536.0 L568.3,534.5 L569.9,533.0 L571.5,531.5 L573.1,530.0 L574.8,528.5 L576.5,527.0 L578.2,525.5 L579.9,524.0 L581.7,522.5 L583.4,521.0 L585.2,519.5 L586.9,518.0 L588.6,516.5 L590.3,515.0 L592.1,513.5 L593.8,512.0 L595.5,510.5 L597.2,509.0 L598.9,507.5 L600.7,506.0 L602.4,504.5 L604.1,503.0 L605.8,501.5 L607.5,500.0 L609.3,498.5 L611.0,497.0 L612.7,495.5 L614.4,494.0 L616.2,492.5 L617.9,491.0 L619.6,489.5 L621.3,488.0 L623.0,486.5 L624.6,485.0 L626.3,483.5 L627.9,482.0 L629.5,480.5 L631.1,479.0 L632.7,477.5 L634.2,476.0 L635.7,474.5 L637.2,473.0 L638.6,471.5 L640.0,470.0 L641.4,468.5 L642.7,467.0 L644.0,465.5 L645.2,464.0 L646.4,462.5 L647.5,461.0 L648.6,459.5 L649.6,458.0 L650.6,456.5 L651.5,455.0 L652.4,453.5 L653.1,452.0 L653.9,450.5 L654.5,449.0 L655.1,447.5 L655.6,446.0 L656.0,444.5 L656.3,443.0 L656.4,441.5 L656.5,440.0 L656.4,438.5 L656.2,437.0 L655.8,435.5 L655.3,434.0 L654.6,432.5 L653.7,431.0 L652.6,429.5 L651.4,428.0 L650.1,426.5 L648.7,425.0 L647.3,423.5 L645.9,422.0 L644.5,420.5 L643.2,419.0 L642.0,417.5 L640.7,416.0 L639.5,414.5 L638.4,413.0 L637.2,411.5 L636.0,410.0 L634.9,408.5 L633.7,407.0 L632.5,405.5 L631.3,404.0 L630.1,402.5 L628.9,401.0 L627.7,399.5 L626.5,398.0 L625.2,396.5 L623.9,395.0 L622.7,393.5 L621.4,392.0 L620.1,390.5 L618.8,389.0 L617.4,387.5 L616.1,386.0 L614.7,384.5 L613.4,383.0 L612.0,381.5 L610.6,380.0 L609.2,378.5 L607.8,377.0 L606.3,375.5 L604.9,374.0 L603.4,372.5 L601.9,371.0 L600.4,369.5 L598.9,368.0 L597.4,366.5 L595.9,365.0 L594.3,363.5 L592.7,362.0 L591.1,360.5 L589.5,359.0 L587.9,357.5 L586.3,356.0 L584.7,354.5 L583.1,353.0 L581.4,351.5 L579.8,350.0 L578.2,348.5 L576.7,347.0 L575.1,345.5 L573.6,344.0 L572.1,342.5 L570.7,341.0 L569.3,339.5 L567.9,338.0 L566.6,336.5 L565.4,335.0 L564.2,333.5 L563.1,332.0 L562.0,330.5 L561.0,329.0 L560.0,327.5 L559.0,326.0 L558.1,324.5 L557.2,323.0 L556.4,321.5 L555.5,320.0 L554.8,318.5 L554.0,317.0 L553.2,315.5 L552.5,314.0 L551.8,312.5 L551.1,311.0 L550.5,309.5 L549.8,308.0 L549.2,306.5 L548.7,305.0 L548.1,303.5 L547.6,302.0 L547.0,300.5 L546.6,299.0 L546.1,297.5 L545.6,296.0 L545.2,294.5 L544.8,293.0 L544.4,291.5 L544.0,290.0 L543.7,288.5 L543.4,287.0 L543.0,285.5 L542.7,284.0 L542.4,282.5 L542.2,281.0 L541.9,279.5 L541.6,278.0 L541.4,276.5 L541.2,275.0 L540.9,273.5 L540.7,272.0 L540.5,270.5 L540.3,269.0 L540.1,267.5 L539.9,266.0 L539.7,264.5 L539.5,263.0 L539.3,261.5 L539.1,260.0 L539.0,258.5 L538.8,257.0 L538.6,255.5 L538.4,254.0 L538.2,252.5 L538.0,251.0 L537.9,249.5 L537.7,248.0 L537.5,246.5 L537.4,245.0 L537.2,243.5 L537.1,242.0 L536.9,240.5 L536.8,239.0 L536.6,237.5 L536.5,236.0 L536.3,234.5 L536.2,233.0 L536.0,231.5 L535.9,230.0 L535.8,228.5 L535.6,227.0 L535.5,225.5 L535.4,224.0 L535.3,222.5 L535.1,221.0 L535.0,219.5 L535.0,218.0 L535.0,216.5 L535.0,215.0 L535.0,213.5 L534.5,212.0Z" fill="#00BFC4"/>
<path d="M849.7,116.0 L849.2,117.5 L849.2,119.0 L849.2,120.5 L849.2,122.0 L849.2,123.5 L849.2,125.0 L849.2,126.5 L849.2,128.0 L849.2,129.5 L849.2,131.0 L849.2,132.5 L849.2,134.0 L849.2,135.5 L849.2,137.0 L849.2,138.5 L849.2,140.0 L849.2,141.5 L849.2,143.0 L849.2,144.5 L849.2,146.0 L849.2,147.5 L849.2,149.0 L849.2,150.5 L849.2,152.0 L849.2,153.5 L849.2,155.0 L849.2,156.5 L849.2,158.0 L849.2,159.5 L849.2,161.0 L849.2,162.5 L849.2,164.0 L849.2,165.5 L849.2,167.0 L849.2,168.5 L849.2,170.0 L849.2,171.5 L849.2,173.0 L849.2,174.5 L849.2,176.0 L849.2,177.5 L849.2,179.0 L849.2,180.5 L849.2,182.0 L849.2,183.5 L849.2,185.0 L849.2,186.5 L849.2,188.0 L849.2,189.5 L849.1,191.0 L849.1,192.5 L849.1,194.0 L849.1,195.5 L849.1,197.0 L849.1,198.5 L849.1,200.0 L849.1,201.5 L849.1,203.0 L849.1,204.5 L849.1,206.0 L849.1,207.5 L849.1,209.0 L849.1,210.5 L849.0,212.0 L848.8,213.5 L848.6,215.0 L848.3,216.5 L848.0,218.0 L847.6,219.5 L847.1,221.0 L846.3,222.5 L845.5,224.0 L844.7,225.5 L844.0,227.0 L843.4,228.5 L842.7,230.0 L842.2,231.5 L841.7,233.0 L841.2,234.5 L840.7,236.0 L840.3,237.5 L839.9,239.0 L839.4,240.5 L839.0,242.0 L838.5,243.5 L838.0,245.0 L837.5,246.5 L836.9,248.0 L836.3,249.5 L835.7,251.0 L835.0,252.5 L834.3,254.0 L833.5,255.5 L832.7,257.0 L831.9,258.5 L831.0,260.0 L830.1,261.5 L829.2,263.0 L828.2,264.5 L827.2,266.0 L826.2,267.5 L825.2,269.0 L824.1,270.5 L823.0,272.0 L821.8,273.5 L820.7,275.0 L819.5,276.5 L818.3,278.0 L817.0,279.5 L815.7,281.0 L814.5,282.5 L813.1,284.0 L811.8,285.5 L810.4,287.0 L809.1,288.5 L807.7,290.0 L806.2,291.5 L804.8,293.0 L803.3,294.5 L801.9,296.0 L800.4,297.5 L798.9,299.0 L797.3,300.5 L795.8,302.0 L794.3,303.5 L792.7,305.0 L791.1,306.5 L789.5,308.0 L787.9,309.5 L786.3,311.0 L784.7,312.5 L783.1,314.0 L781.5,315.5 L779.8,317.0 L778.2,318.5 L776.6,320.0 L775.0,321.5 L773.4,323.0 L771.8,324.5 L770.2,326.0 L768.6,327.5 L767.0,329.0 L765.4,330.5 L763.9,332.0 L762.3,333.5 L760.8,335.0 L759.3,336.5 L757.9,338.0 L756.4,339.5 L755.0,341.0 L753.6,342.5 L752.2,344.0 L750.9,345.5 L749.5,347.0 L748.2,348.5 L746.9,350.0 L745.7,351.5 L744.4,353.0 L743.2,354.5 L742.0,356.0 L740.8,357.5 L739.7,359.0 L738.5,360.5 L737.4,362.0 L736.3,363.5 L735.3,365.0 L734.3,366.5 L733.3,368.0 L732.4,369.5 L731.5,371.0 L730.7,372.5 L730.0,374.0 L729.4,375.5 L728.9,377.0 L728.4,378.5 L728.1,380.0 L727.8,381.5 L727.7,383.0 L727.7,384.5 L727.8,386.0 L728.0,387.5 L728.3,389.0 L728.7,390.5 L729.2,392.0 L729.8,393.5 L730.5,395.0 L731.3,396.5 L732.2,398.0 L733.2,399.5 L734.2,401.0 L735.3,402.5 L736.4,404.0 L737.5,405.5 L738.6,407.0 L739.7,408.5 L740.7,410.0 L741.7,411.5 L742.6,413.0 L743.5,414.5 L744.5,416.0 L745.5,417.5 L746.6,419.0 L747.9,420.5 L749.3,422.0 L750.8,423.5 L752.5,425.0 L754.3,426.5 L756.1,428.0 L758.0,429.5 L760.0,431.0 L762.0,432.5 L763.9,434.0 L765.8,435.5 L767.7,437.0 L769.5,438.5 L771.2,440.0 L772.8,441.5 L774.4,443.0 L775.9,444.5 L777.3,446.0 L778.6,447.5 L779.9,449.0 L781.2,450.5 L782.4,452.0 L783.6,453.5 L784.8,455.0 L786.0,456.5 L787.2,458.0 L788.3,459.5 L789.5,461.0 L790.7,462.5 L791.9,464.0 L793.1,465.5 L794.4,467.0 L795.7,468.5 L797.0,470.0 L798.3,471.5 L799.7,473.0 L801.1,474.5 L802.5,476.0 L804.0,477.5 L805.5,479.0 L807.0,480.5 L808.5,482.0 L810.1,483.5 L811.7,485.0 L813.4,486.5 L815.0,488.0 L816.6,489.5 L818.2,491.0 L819.8,492.5 L821.4,494.0 L822.9,495.5 L824.4,497.0 L825.9,498.5 L827.3,500.0 L828.6,501.5 L829.9,503.0 L831.1,504.5 L832.2,506.0 L833.3,507.5 L834.3,509.0 L835.2,510.5 L836.0,512.0 L836.8,513.5 L837.5,515.0 L838.1,516.5 L838.7,518.0 L839.3,519.5 L839.8,521.0 L840.3,522.5 L840.8,524.0 L841.2,525.5 L841.6,527.0 L842.0,528.5 L842.4,530.0 L842.7,531.5 L843.1,533.0 L843.4,534.5 L843.7,536.0 L844.0,537.5 L844.3,539.0 L844.6,540.5 L844.8,542.0 L845.1,543.5 L845.4,545.0 L845.7,546.5 L845.9,548.0 L846.2,549.5 L846.4,551.0 L846.7,552.5 L846.9,554.0 L847.1,555.5 L847.3,557.0 L847.5,558.5 L847.7,560.0 L847.8,561.5 L848.0,563.0 L848.1,564.5 L848.2,566.0 L848.3,567.5 L848.4,569.0 L848.5,570.5 L848.6,572.0 L848.7,573.5 L848.8,575.0 L848.9,576.5 L848.9,578.0 L849.0,579.5 L849.1,581.0 L849.2,582.5 L849.2,584.0 L849.2,585.5 L849.2,587.0 L849.2,588.5 L849.2,590.0 L849.2,591.5 L849.2,593.0 L849.2,594.5 L849.2,596.0 L849.2,597.5 L849.2,599.0 L849.2,600.5 L849.2,602.0 L849.7,603.0 L849.7,603.0 L850.2,602.0 L850.2,600.5 L850.2,599.0 L850.2,597.5 L850.2,596.0 L850.2,594.5 L850.2,593.0 L850.2,591.5 L850.2,590.0 L850.2,588.5 L850.2,587.0 L850.2,585.5 L850.2,584.0 L850.2,582.5 L850.3,581.0 L850.4,579.5 L850.5,578.0 L850.5,576.5 L850.6,575.0 L850.7,573.5 L850.8,572.0 L850.9,570.5 L851.0,569.0 L851.1,567.5 L851.2,566.0 L851.3,564.5 L851.4,563.0 L851.6,561.5 L851.7,560.0 L851.9,558.5 L852.1,557.0 L852.3,555.5 L852.5,554.0 L852.7,552.5 L853.0,551.0 L853.2,549.5 L853.5,548.0 L853.7,546.5 L854.0,545.0 L854.3,543.5 L854.6,542.0 L854.8,540.5 L855.1,539.0 L855.4,537.5 L855.7,536.0 L856.0,534.5 L856.3,533.0 L856.7,531.5 L857.0,530.0 L857.4,528.5 L857.8,527.0 L858.2,525.5 L858.6,524.0 L859.1,522.5 L859.6,521.0 L860.1,519.5 L860.7,518.0 L861.3,516.5 L861.9,515.0 L862.6,513.5 L863.4,512.0 L864.2,510.5 L865.1,509.0 L866.1,507.5 L867.2,506.0 L868.3,504.5 L869.5,503.0 L870.8,501.5 L872.1,500.0 L873.5,498.5 L875.0,497.0 L876.5,495.5 L878.0,494.0 L879.6,492.5 L881.2,491.0 L882.8,489.5 L884.4,488.0 L886.0,486.5 L887.7,485.0 L889.3,483.5 L890.9,482.0 L892.4,480.5 L893.9,479.0 L895.4,477.5 L896.9,476.0 L898.3,474.5 L899.7,473.0 L901.1,471.5 L902.4,470.0 L903.7,468.5 L905.0,467.0 L906.3,465.5 L907.5,464.0 L908.7,462.5 L909.9,461.0 L911.1,459.5 L912.2,458.0 L913.4,456.5 L914.6,455.0 L915.8,453.5 L917.0,452.0 L918.2,450.5 L919.5,449.0 L920.8,447.5 L922.1,446.0 L923.5,444.5 L925.0,443.0 L926.6,441.5 L928.2,440.0 L929.9,438.5 L931.7,437.0 L933.6,435.5 L935.5,434.0 L937.4,432.5 L939.4,431.0 L941.4,429.5 L943.3,428.0 L945.1,426.5 L946.9,425.0 L948.6,423.5 L950.1,422.0 L951.5,420.5 L952.8,419.0 L953.9,417.5 L954.9,416.0 L955.9,414.5 L956.8,413.0 L957.7,411.5 L958.7,410.0 L959.7,408.5 L960.8,407.0 L961.9,405.5 L963.0,404.0 L964.1,402.5 L965.2,401.0 L966.2,399.5 L967.2,398.0 L968.1,396.5 L968.9,395.0 L969.6,393.5 L970.2,392.0 L970.7,390.5 L971.1,389.0 L971.4,387.5 L971.6,386.0 L971.7,384.5 L971.7,383.0 L971.6,381.5 L971.3,380.0 L971.0,378.5 L970.5,377.0 L970.0,375.5 L969.4,374.0 L968.7,372.5 L967.9,371.0 L967.0,369.5 L966.1,368.0 L965.1,366.5 L964.1,365.0 L963.1,363.5 L962.0,362.0 L960.9,360.5 L959.7,359.0 L958.6,357.5 L957.4,356.0 L956.2,354.5 L955.0,353.0 L953.7,351.5 L952.5,350.0 L951.2,348.5 L949.9,347.0 L948.5,345.5 L947.2,344.0 L945.8,342.5 L944.4,341.0 L943.0,339.5 L941.5,338.0 L940.1,336.5 L938.6,335.0 L937.1,333.5 L935.5,332.0 L934.0,330.5 L932.4,329.0 L930.8,327.5 L929.2,326.0 L927.6,324.5 L926.0,323.0 L924.4,321.5 L922.8,320.0 L921.2,318.5 L919.6,317.0 L917.9,315.5 L916.3,314.0 L914.7,312.5 L913.1,311.0 L911.5,309.5 L909.9,308.0 L908.3,306.5 L906.7,305.0 L905.1,303.5 L903.6,302.0 L902.1,300.5 L900.5,299.0 L899.0,297.5 L897.5,296.0 L896.1,294.5 L894.6,293.0 L893.2,291.5 L891.7,290.0 L890.3,288.5 L889.0,287.0 L887.6,285.5 L886.3,284.0 L884.9,282.5 L883.7,281.0 L882.4,279.5 L881.1,278.0 L879.9,276.5 L878.7,275.0 L877.6,273.5 L876.4,272.0 L875.3,270.5 L874.2,269.0 L873.2,267.5 L872.2,266.0 L871.2,264.5 L870.2,263.0 L869.3,261.5 L868.4,260.0 L867.5,258.5 L866.7,257.0 L865.9,255.5 L865.1,254.0 L864.4,252.5 L863.7,251.0 L863.1,249.5 L862.5,248.0 L861.9,246.5 L861.4,245.0 L860.9,243.5 L860.4,242.0 L860.0,240.5 L859.5,239.0 L859.1,237.5 L858.7,236.0 L858.2,234.5 L857.7,233.0 L857.2,231.5 L856.7,230.0 L856.0,228.5 L855.4,227.0 L854.7,225.5 L853.9,224.0 L853.1,222.5 L852.3,221.0 L851.8,219.5 L851.4,218.0 L851.1,216.5 L850.8,215.0 L850.6,213.5 L850.4,212.0 L850.3,210.5 L850.3,209.0 L850.3,207.5 L850.3,206.0 L850.3,204.5 L850.3,203.0 L850.3,201.5 L850.3,200.0 L850.3,198.5 L850.3,197.0 L850.3,195.5 L850.3,194.0 L850.3,192.5 L850.3,191.0 L850.2,189.5 L850.2,188.0 L850.2,186.5 L850.2,185.0 L850.2,183.5 L850.2,182.0 L850.2,180.5 L850.2,179.0 L850.2,177.5 L850.2,176.0 L850.2,174.5 L850.2,173.0 L850.2,171.5 L850.2,170.0 L850.2,168.5 L850.2,167.0 L850.2,165.5 L850.2,164.0 L850.2,162.5 L850.2,161.0 L850.2,159.5 L850.2,158.0 L850.2,156.5 L850.2,155.0 L850.2,153.5 L850.2,152.0 L850.2,150.5 L850.2,149.0 L850.2,147.5 L850.2,146.0 L850.2,144.5 L850.2,143.0 L850.2,141.5 L850.2,140.0 L850.2,138.5 L850.2,137.0 L850.2,135.5 L850.2,134.0 L850.2,132.5 L850.2,131.0 L850.2,129.5 L850.2,128.0 L850.2,126.5 L850.2,125.0 L850.2,123.5 L850.2,122.0 L850.2,120.5 L850.2,119.0 L850.2,117.5 L849.7,116.0Z" fill="#F8766D"/>
<path d="M849.7,105.0 L849.2,106.5 L849.2,108.0 L849.2,109.5 L849.2,111.0 L849.2,112.5 L849.2,114.0 L849.2,115.5 L849.2,117.0 L849.2,118.5 L849.1,120.0 L849.0,121.5 L849.0,123.0 L848.9,124.5 L848.9,126.0 L848.8,127.5 L848.8,129.0 L848.7,130.5 L848.6,132.0 L848.6,133.5 L848.5,135.0 L848.5,136.5 L848.4,138.0 L848.3,139.5 L848.3,141.0 L848.2,142.5 L848.1,144.0 L848.0,145.5 L848.0,147.0 L847.9,148.5 L847.8,150.0 L847.7,151.5 L847.6,153.0 L847.5,154.5 L847.4,156.0 L847.3,157.5 L847.2,159.0 L847.0,160.5 L846.9,162.0 L846.7,163.5 L846.5,165.0 L846.2,166.5 L846.0,168.0 L845.8,169.5 L845.6,171.0 L845.4,172.5 L845.2,174.0 L845.0,175.5 L844.8,177.0 L844.5,178.5 L844.2,180.0 L844.0,181.5 L843.6,183.0 L843.3,184.5 L842.9,186.0 L842.4,187.5 L841.9,189.0 L841.4,190.5 L840.7,192.0 L840.1,193.5 L839.4,195.0 L838.6,196.5 L837.8,198.0 L836.9,199.5 L836.0,201.0 L835.0,202.5 L834.1,204.0 L833.1,205.5 L832.2,207.0 L831.3,208.5 L830.5,210.0 L829.8,211.5 L829.1,213.0 L828.5,214.5 L827.9,216.0 L827.4,217.5 L826.9,219.0 L826.4,220.5 L825.9,222.0 L825.5,223.5 L825.1,225.0 L824.6,226.5 L824.2,228.0 L823.7,229.5 L823.1,231.0 L822.6,232.5 L821.9,234.0 L821.2,235.5 L820.3,237.0 L819.3,238.5 L818.1,240.0 L816.7,241.5 L815.1,243.0 L813.4,244.5 L811.5,246.0 L809.7,247.5 L807.9,249.0 L806.2,250.5 L804.5,252.0 L802.9,253.5 L801.2,255.0 L799.4,256.5 L797.6,258.0 L795.7,259.5 L793.9,261.0 L792.0,262.5 L790.0,264.0 L788.1,265.5 L786.3,267.0 L784.4,268.5 L782.6,270.0 L780.8,271.5 L779.0,273.0 L777.2,274.5 L775.5,276.0 L773.7,277.5 L772.0,279.0 L770.3,280.5 L768.5,282.0 L766.7,283.5 L764.8,285.0 L762.8,286.5 L760.7,288.0 L758.6,289.5 L756.6,291.0 L754.5,292.5 L752.5,294.0 L750.7,295.5 L748.9,297.0 L747.3,298.5 L745.8,300.0 L744.5,301.5 L743.4,303.0 L742.4,304.5 L741.7,306.0 L741.2,307.5 L740.8,309.0 L740.5,310.5 L740.4,312.0 L740.3,313.5 L740.4,315.0 L740.5,316.5 L740.6,318.0 L740.7,319.5 L740.7,321.0 L740.7,322.5 L740.5,324.0 L740.2,325.5 L739.6,327.0 L738.9,328.5 L738.0,330.0 L736.9,331.5 L735.9,333.0 L734.8,334.5 L733.7,336.0 L732.6,337.5 L731.6,339.0 L730.8,340.5 L730.0,342.0 L729.3,343.5 L728.8,345.0 L728.3,346.5 L728.0,348.0 L727.8,349.5 L727.7,351.0 L727.8,352.5 L728.0,354.0 L728.3,355.5 L728.8,357.0 L729.5,358.5 L730.3,360.0 L731.4,361.5 L732.6,363.0 L734.1,364.5 L735.8,366.0 L737.7,367.5 L739.8,369.0 L741.9,370.5 L744.0,372.0 L745.9,373.5 L747.6,375.0 L749.2,376.5 L750.6,378.0 L752.0,379.5 L753.5,381.0 L755.0,382.5 L756.5,384.0 L758.1,385.5 L759.8,387.0 L761.4,388.5 L763.1,390.0 L764.9,391.5 L766.6,393.0 L768.3,394.5 L770.1,396.0 L771.8,397.5 L773.6,399.0 L775.3,400.5 L777.1,402.0 L778.8,403.5 L780.5,405.0 L782.2,406.5 L783.9,408.0 L785.5,409.5 L787.2,411.0 L788.9,412.5 L790.6,414.0 L792.3,415.5 L794.0,417.0 L795.7,418.5 L797.4,420.0 L799.1,421.5 L800.8,423.0 L802.4,424.5 L803.9,426.0 L805.4,427.5 L806.8,429.0 L808.1,430.5 L809.4,432.0 L810.6,433.5 L811.8,435.0 L813.0,436.5 L814.1,438.0 L815.2,439.5 L816.3,441.0 L817.4,442.5 L818.6,444.0 L819.7,445.5 L820.8,447.0 L822.0,448.5 L823.1,450.0 L824.2,451.5 L825.3,453.0 L826.4,454.5 L827.5,456.0 L828.6,457.5 L829.6,459.0 L830.5,460.5 L831.5,462.0 L832.4,463.5 L833.4,465.0 L834.3,466.5 L835.2,468.0 L836.2,469.5 L837.1,471.0 L838.0,472.5 L838.8,474.0 L839.6,475.5 L840.3,477.0 L840.9,478.5 L841.5,480.0 L842.0,481.5 L842.4,483.0 L842.8,484.5 L843.2,486.0 L843.5,487.5 L843.8,489.0 L844.1,490.5 L844.4,492.0 L844.6,493.5 L844.9,495.0 L845.1,496.5 L845.3,498.0 L845.5,499.5 L845.7,501.0 L845.9,502.5 L846.0,504.0 L846.2,505.5 L846.4,507.0 L846.5,508.5 L846.6,510.0 L846.8,511.5 L846.9,513.0 L847.0,514.5 L847.1,516.0 L847.2,517.5 L847.3,519.0 L847.4,520.5 L847.5,522.0 L847.6,523.5 L847.8,525.0 L847.9,526.5 L848.0,528.0 L848.1,529.5 L848.2,531.0 L848.3,532.5 L848.3,534.0 L848.4,535.5 L848.5,537.0 L848.6,538.5 L848.7,540.0 L848.8,541.5 L848.9,543.0 L849.0,544.5 L849.1,546.0 L849.2,547.5 L849.2,549.0 L849.2,550.5 L849.2,552.0 L849.2,553.5 L849.2,555.0 L849.7,556.0 L849.7,556.0 L850.2,555.0 L850.2,553.5 L850.2,552.0 L850.2,550.5 L850.2,549.0 L850.2,547.5 L850.3,546.0 L850.4,544.5 L850.5,543.0 L850.6,541.5 L850.7,540.0 L850.8,538.5 L850.9,537.0 L851.0,535.5 L851.1,534.0 L851.1,532.5 L851.2,531.0 L851.3,529.5 L851.4,528.0 L851.5,526.5 L851.6,525.0 L851.8,523.5 L851.9,522.0 L852.0,520.5 L852.1,519.0 L852.2,517.5 L852.3,516.0 L852.4,514.5 L852.5,513.0 L852.6,511.5 L852.8,510.0 L852.9,508.5 L853.0,507.0 L853.2,505.5 L853.4,504.0 L853.5,502.5 L853.7,501.0 L853.9,499.5 L854.1,498.0 L854.3,496.5 L854.5,495.0 L854.8,493.5 L855.0,492.0 L855.3,490.5 L855.6,489.0 L855.9,487.5 L856.2,486.0 L856.6,484.5 L857.0,483.0 L857.4,481.5 L857.9,480.0 L858.5,478.5 L859.1,477.0 L859.8,475.5 L860.6,474.0 L861.4,472.5 L862.3,471.0 L863.2,469.5 L864.2,468.0 L865.1,466.5 L866.0,465.0 L867.0,463.5 L867.9,462.0 L868.9,460.5 L869.8,459.0 L870.8,457.5 L871.9,456.0 L873.0,454.5 L874.1,453.0 L875.2,451.5 L876.3,450.0 L877.4,448.5 L878.6,447.0 L879.7,445.5 L880.8,444.0 L882.0,442.5 L883.1,441.0 L884.2,439.5 L885.3,438.0 L886.4,436.5 L887.6,435.0 L888.8,433.5 L890.0,432.0 L891.3,430.5 L892.6,429.0 L894.0,427.5 L895.5,426.0 L897.0,424.5 L898.6,423.0 L900.3,421.5 L902.0,420.0 L903.7,418.5 L905.4,417.0 L907.1,415.5 L908.8,414.0 L910.5,412.5 L912.2,411.0 L913.9,409.5 L915.5,408.0 L917.2,406.5 L918.9,405.0 L920.6,403.5 L922.3,402.0 L924.1,400.5 L925.8,399.0 L927.6,397.5 L929.3,396.0 L931.1,394.5 L932.8,393.0 L934.5,391.5 L936.3,390.0 L938.0,388.5 L939.6,387.0 L941.3,385.5 L942.9,384.0 L944.4,382.5 L945.9,381.0 L947.4,379.5 L948.8,378.0 L950.2,376.5 L951.8,375.0 L953.5,373.5 L955.4,372.0 L957.5,370.5 L959.6,369.0 L961.7,367.5 L963.6,366.0 L965.3,364.5 L966.8,363.0 L968.0,361.5 L969.1,360.0 L969.9,358.5 L970.6,357.0 L971.1,355.5 L971.4,354.0 L971.6,352.5 L971.7,351.0 L971.6,349.5 L971.4,348.0 L971.1,346.5 L970.6,345.0 L970.1,343.5 L969.4,342.0 L968.6,340.5 L967.8,339.0 L966.8,337.5 L965.7,336.0 L964.6,334.5 L963.5,333.0 L962.5,331.5 L961.4,330.0 L960.5,328.5 L959.8,327.0 L959.2,325.5 L958.9,324.0 L958.7,322.5 L958.7,321.0 L958.7,319.5 L958.8,318.0 L958.9,316.5 L959.0,315.0 L959.1,313.5 L959.0,312.0 L958.9,310.5 L958.6,309.0 L958.2,307.5 L957.7,306.0 L957.0,304.5 L956.0,303.0 L954.9,301.5 L953.6,300.0 L952.1,298.5 L950.5,297.0 L948.7,295.5 L946.9,294.0 L944.9,292.5 L942.8,291.0 L940.8,289.5 L938.7,288.0 L936.6,286.5 L934.6,285.0 L932.7,283.5 L930.9,282.0 L929.1,280.5 L927.4,279.0 L925.7,277.5 L923.9,276.0 L922.2,274.5 L920.4,273.0 L918.6,271.5 L916.8,270.0 L915.0,268.5 L913.1,267.0 L911.3,265.5 L909.4,264.0 L907.4,262.5 L905.5,261.0 L903.7,259.5 L901.8,258.0 L900.0,256.5 L898.2,255.0 L896.5,253.5 L894.9,252.0 L893.2,250.5 L891.5,249.0 L889.7,247.5 L887.9,246.0 L886.0,244.5 L884.3,243.0 L882.7,241.5 L881.3,240.0 L880.1,238.5 L879.1,237.0 L878.2,235.5 L877.5,234.0 L876.8,232.5 L876.3,231.0 L875.7,229.5 L875.2,228.0 L874.8,226.5 L874.3,225.0 L873.9,223.5 L873.5,222.0 L873.0,220.5 L872.5,219.0 L872.0,217.5 L871.5,216.0 L870.9,214.5 L870.3,213.0 L869.6,211.5 L868.9,210.0 L868.1,208.5 L867.2,207.0 L866.3,205.5 L865.3,204.0 L864.4,202.5 L863.4,201.0 L862.5,199.5 L861.6,198.0 L860.8,196.5 L860.0,195.0 L859.3,193.5 L858.7,192.0 L858.0,190.5 L857.5,189.0 L857.0,187.5 L856.5,186.0 L856.1,184.5 L855.8,183.0 L855.4,181.5 L855.2,180.0 L854.9,178.5 L854.6,177.0 L854.4,175.5 L854.2,174.0 L854.0,172.5 L853.8,171.0 L853.6,169.5 L853.4,168.0 L853.2,166.5 L852.9,165.0 L852.7,163.5 L852.5,162.0 L852.4,160.5 L852.2,159.0 L852.1,157.5 L852.0,156.0 L851.9,154.5 L851.8,153.0 L851.7,151.5 L851.6,150.0 L851.5,148.5 L851.4,147.0 L851.4,145.5 L851.3,144.0 L851.2,142.5 L851.1,141.0 L851.1,139.5 L851.0,138.0 L850.9,136.5 L850.9,135.0 L850.8,133.5 L850.8,132.0 L850.7,130.5 L850.6,129.0 L850.6,127.5 L850.5,126.0 L850.5,124.5 L850.4,123.0 L850.4,121.5 L850.3,120.0 L850.2,118.5 L850.2,117.0 L850.2,115.5 L850.2,114.0 L850.2,112.5 L850.2,111.0 L850.2,109.5 L850.2,108.0 L850.2,106.5 L849.7,105.0Z" fill="#00BFC4"/>
<path d="M1093.6,166.0 L1093.1,167.5 L1093.1,169.0 L1093.1,170.5 L1093.1,172.0 L1093.1,173.5 L1093.1,175.0 L1093.1,176.5 L1093.1,178.0 L1093.1,179.5 L1093.1,181.0 L1093.1,182.5 L1093.1,184.0 L1093.1,185.5 L1093.1,187.0 L1093.1,188.5 L1093.1,190.0 L1093.1,191.5 L1093.1,193.0 L1093.1,194.5 L1093.1,196.0 L1093.0,197.5 L1093.0,199.0 L1093.0,200.5 L1093.0,202.0 L1092.9,203.5 L1092.9,205.0 L1092.9,206.5 L1092.8,208.0 L1092.8,209.5 L1092.8,211.0 L1092.7,212.5 L1092.7,214.0 L1092.7,215.5 L1092.6,217.0 L1092.6,218.5 L1092.6,220.0 L1092.6,221.5 L1092.6,223.0 L1092.6,224.5 L1092.5,226.0 L1092.5,227.5 L1092.5,229.0 L1092.5,230.5 L1092.4,232.0 L1092.2,233.5 L1092.0,235.0 L1091.8,236.5 L1091.5,238.0 L1091.3,239.5 L1091.0,241.0 L1090.8,242.5 L1090.5,244.0 L1090.2,245.5 L1089.9,247.0 L1089.5,248.5 L1089.2,250.0 L1088.9,251.5 L1088.6,253.0 L1088.3,254.5 L1088.0,256.0 L1087.6,257.5 L1087.3,259.0 L1087.0,260.5 L1086.6,262.0 L1086.3,263.5 L1086.0,265.0 L1085.7,266.5 L1085.3,268.0 L1085.0,269.5 L1084.7,271.0 L1084.3,272.5 L1084.0,274.0 L1083.7,275.5 L1083.3,277.0 L1082.9,278.5 L1082.5,280.0 L1082.1,281.5 L1081.6,283.0 L1081.1,284.5 L1080.5,286.0 L1079.9,287.5 L1079.3,289.0 L1078.6,290.5 L1077.8,292.0 L1077.0,293.5 L1076.1,295.0 L1075.1,296.5 L1074.1,298.0 L1073.1,299.5 L1072.0,301.0 L1070.9,302.5 L1069.8,304.0 L1068.6,305.5 L1067.3,307.0 L1066.1,308.5 L1064.8,310.0 L1063.4,311.5 L1062.1,313.0 L1060.7,314.5 L1059.3,316.0 L1057.9,317.5 L1056.5,319.0 L1055.0,320.5 L1053.6,322.0 L1052.1,323.5 L1050.6,325.0 L1049.1,326.5 L1047.6,328.0 L1046.1,329.5 L1044.5,331.0 L1043.0,332.5 L1041.5,334.0 L1039.9,335.5 L1038.4,337.0 L1036.8,338.5 L1035.2,340.0 L1033.7,341.5 L1032.1,343.0 L1030.5,344.5 L1028.9,346.0 L1027.3,347.5 L1025.7,349.0 L1024.1,350.5 L1022.5,352.0 L1020.8,353.5 L1019.2,355.0 L1017.5,356.5 L1015.8,358.0 L1014.0,359.5 L1012.3,361.0 L1010.5,362.5 L1008.6,364.0 L1006.8,365.5 L1005.0,367.0 L1003.1,368.5 L1001.2,370.0 L999.4,371.5 L997.5,373.0 L995.7,374.5 L993.9,376.0 L992.1,377.5 L990.3,379.0 L988.6,380.5 L987.0,382.0 L985.4,383.5 L983.9,385.0 L982.4,386.5 L981.0,388.0 L979.7,389.5 L978.5,391.0 L977.3,392.5 L976.3,394.0 L975.4,395.5 L974.6,397.0 L974.0,398.5 L973.4,400.0 L973.0,401.5 L972.6,403.0 L972.4,404.5 L972.1,406.0 L972.0,407.5 L971.8,409.0 L971.7,410.5 L971.7,412.0 L971.6,413.5 L971.6,415.0 L971.6,416.5 L971.7,418.0 L971.8,419.5 L971.9,421.0 L972.1,422.5 L972.4,424.0 L972.7,425.5 L973.1,427.0 L973.6,428.5 L974.1,430.0 L974.7,431.5 L975.4,433.0 L976.1,434.5 L977.0,436.0 L977.9,437.5 L978.9,439.0 L979.9,440.5 L981.1,442.0 L982.2,443.5 L983.4,445.0 L984.7,446.5 L986.0,448.0 L987.4,449.5 L988.8,451.0 L990.2,452.5 L991.6,454.0 L993.0,455.5 L994.5,457.0 L996.0,458.5 L997.4,460.0 L998.9,461.5 L1000.4,463.0 L1001.8,464.5 L1003.2,466.0 L1004.7,467.5 L1006.1,469.0 L1007.5,470.5 L1008.9,472.0 L1010.3,473.5 L1011.8,475.0 L1013.2,476.5 L1014.7,478.0 L1016.1,479.5 L1017.6,481.0 L1019.2,482.5 L1020.7,484.0 L1022.3,485.5 L1023.9,487.0 L1025.5,488.5 L1027.2,490.0 L1028.9,491.5 L1030.6,493.0 L1032.3,494.5 L1034.0,496.0 L1035.8,497.5 L1037.5,499.0 L1039.3,500.5 L1041.1,502.0 L1042.8,503.5 L1044.6,505.0 L1046.3,506.5 L1048.1,508.0 L1049.8,509.5 L1051.5,511.0 L1053.2,512.5 L1054.9,514.0 L1056.5,515.5 L1058.1,517.0 L1059.7,518.5 L1061.2,520.0 L1062.7,521.5 L1064.2,523.0 L1065.6,524.5 L1067.0,526.0 L1068.3,527.5 L1069.6,529.0 L1070.9,530.5 L1072.1,532.0 L1073.2,533.5 L1074.3,535.0 L1075.3,536.5 L1076.2,538.0 L1077.1,539.5 L1078.0,541.0 L1078.8,542.5 L1079.6,544.0 L1080.3,545.5 L1081.0,547.0 L1081.6,548.5 L1082.3,550.0 L1082.8,551.5 L1083.4,553.0 L1083.9,554.5 L1084.4,556.0 L1084.9,557.5 L1085.4,559.0 L1085.9,560.5 L1086.3,562.0 L1086.8,563.5 L1087.2,565.0 L1087.6,566.5 L1087.9,568.0 L1088.3,569.5 L1088.6,571.0 L1088.9,572.5 L1089.2,574.0 L1089.5,575.5 L1089.8,577.0 L1090.1,578.5 L1090.3,580.0 L1090.5,581.5 L1090.7,583.0 L1090.8,584.5 L1090.9,586.0 L1091.0,587.5 L1091.1,589.0 L1091.2,590.5 L1091.3,592.0 L1091.4,593.5 L1091.5,595.0 L1091.7,596.5 L1091.8,598.0 L1091.9,599.5 L1092.1,601.0 L1092.2,602.5 L1092.3,604.0 L1092.4,605.5 L1092.5,607.0 L1092.6,608.5 L1092.7,610.0 L1092.8,611.5 L1092.9,613.0 L1092.9,614.5 L1093.0,616.0 L1093.0,617.5 L1093.0,619.0 L1093.1,620.5 L1093.1,622.0 L1093.1,623.5 L1093.1,625.0 L1093.1,626.5 L1093.1,628.0 L1093.1,629.5 L1093.1,631.0 L1093.1,632.5 L1093.1,634.0 L1093.1,635.5 L1093.1,637.0 L1093.1,638.5 L1093.1,640.0 L1093.1,641.5 L1093.1,643.0 L1093.1,644.5 L1093.1,646.0 L1093.1,647.5 L1093.1,649.0 L1093.1,650.5 L1093.1,652.0 L1093.1,653.5 L1093.1,655.0 L1093.1,656.5 L1093.1,658.0 L1093.1,659.5 L1093.1,661.0 L1093.1,662.5 L1093.1,664.0 L1093.1,665.5 L1093.1,667.0 L1093.1,668.5 L1093.1,670.0 L1093.6,671.0 L1093.6,671.0 L1094.1,670.0 L1094.1,668.5 L1094.1,667.0 L1094.1,665.5 L1094.1,664.0 L1094.1,662.5 L1094.1,661.0 L1094.1,659.5 L1094.1,658.0 L1094.1,656.5 L1094.1,655.0 L1094.1,653.5 L1094.1,652.0 L1094.1,650.5 L1094.1,649.0 L1094.1,647.5 L1094.1,646.0 L1094.1,644.5 L1094.1,643.0 L1094.1,641.5 L1094.1,640.0 L1094.1,638.5 L1094.1,637.0 L1094.1,635.5 L1094.1,634.0 L1094.1,632.5 L1094.1,631.0 L1094.1,629.5 L1094.1,628.0 L1094.1,626.5 L1094.1,625.0 L1094.1,623.5 L1094.1,622.0 L1094.1,620.5 L1094.2,619.0 L1094.2,617.5 L1094.2,616.0 L1094.3,614.5 L1094.3,613.0 L1094.4,611.5 L1094.5,610.0 L1094.6,608.5 L1094.7,607.0 L1094.8,605.5 L1094.9,604.0 L1095.0,602.5 L1095.1,601.0 L1095.3,599.5 L1095.4,598.0 L1095.5,596.5 L1095.7,595.0 L1095.8,593.5 L1095.9,592.0 L1096.0,590.5 L1096.1,589.0 L1096.2,587.5 L1096.3,586.0 L1096.4,584.5 L1096.5,583.0 L1096.7,581.5 L1096.9,580.0 L1097.1,578.5 L1097.4,577.0 L1097.7,575.5 L1098.0,574.0 L1098.3,572.5 L1098.6,571.0 L1098.9,569.5 L1099.3,568.0 L1099.6,566.5 L1100.0,565.0 L1100.4,563.5 L1100.9,562.0 L1101.3,560.5 L1101.8,559.0 L1102.3,557.5 L1102.8,556.0 L1103.3,554.5 L1103.8,553.0 L1104.4,551.5 L1104.9,550.0 L1105.6,548.5 L1106.2,547.0 L1106.9,545.5 L1107.6,544.0 L1108.4,542.5 L1109.2,541.0 L1110.1,539.5 L1111.0,538.0 L1111.9,536.5 L1112.9,535.0 L1114.0,533.5 L1115.1,532.0 L1116.3,530.5 L1117.6,529.0 L1118.9,527.5 L1120.2,526.0 L1121.6,524.5 L1123.0,523.0 L1124.5,521.5 L1126.0,520.0 L1127.5,518.5 L1129.1,517.0 L1130.7,515.5 L1132.3,514.0 L1134.0,512.5 L1135.7,511.0 L1137.4,509.5 L1139.1,508.0 L1140.9,506.5 L1142.6,505.0 L1144.4,503.5 L1146.1,502.0 L1147.9,500.5 L1149.7,499.0 L1151.4,497.5 L1153.2,496.0 L1154.9,494.5 L1156.6,493.0 L1158.3,491.5 L1160.0,490.0 L1161.7,488.5 L1163.3,487.0 L1164.9,485.5 L1166.5,484.0 L1168.0,482.5 L1169.6,481.0 L1171.1,479.5 L1172.5,478.0 L1174.0,476.5 L1175.4,475.0 L1176.9,473.5 L1178.3,472.0 L1179.7,470.5 L1181.1,469.0 L1182.5,467.5 L1184.0,466.0 L1185.4,464.5 L1186.8,463.0 L1188.3,461.5 L1189.8,460.0 L1191.2,458.5 L1192.7,457.0 L1194.2,455.5 L1195.6,454.0 L1197.0,452.5 L1198.4,451.0 L1199.8,449.5 L1201.2,448.0 L1202.5,446.5 L1203.8,445.0 L1205.0,443.5 L1206.1,442.0 L1207.3,440.5 L1208.3,439.0 L1209.3,437.5 L1210.2,436.0 L1211.1,434.5 L1211.8,433.0 L1212.5,431.5 L1213.1,430.0 L1213.6,428.5 L1214.1,427.0 L1214.5,425.5 L1214.8,424.0 L1215.1,422.5 L1215.3,421.0 L1215.4,419.5 L1215.5,418.0 L1215.6,416.5 L1215.6,415.0 L1215.6,413.5 L1215.5,412.0 L1215.5,410.5 L1215.4,409.0 L1215.2,407.5 L1215.1,406.0 L1214.8,404.5 L1214.6,403.0 L1214.2,401.5 L1213.8,400.0 L1213.2,398.5 L1212.6,397.0 L1211.8,395.5 L1210.9,394.0 L1209.9,392.5 L1208.7,391.0 L1207.5,389.5 L1206.2,388.0 L1204.8,386.5 L1203.3,385.0 L1201.8,383.5 L1200.2,382.0 L1198.6,380.5 L1196.9,379.0 L1195.1,377.5 L1193.3,376.0 L1191.5,374.5 L1189.7,373.0 L1187.8,371.5 L1186.0,370.0 L1184.1,368.5 L1182.2,367.0 L1180.4,365.5 L1178.6,364.0 L1176.7,362.5 L1174.9,361.0 L1173.2,359.5 L1171.4,358.0 L1169.7,356.5 L1168.0,355.0 L1166.4,353.5 L1164.7,352.0 L1163.1,350.5 L1161.5,349.0 L1159.9,347.5 L1158.3,346.0 L1156.7,344.5 L1155.1,343.0 L1153.5,341.5 L1152.0,340.0 L1150.4,338.5 L1148.8,337.0 L1147.3,335.5 L1145.7,334.0 L1144.2,332.5 L1142.7,331.0 L1141.1,329.5 L1139.6,328.0 L1138.1,326.5 L1136.6,325.0 L1135.1,323.5 L1133.6,322.0 L1132.2,320.5 L1130.7,319.0 L1129.3,317.5 L1127.9,316.0 L1126.5,314.5 L1125.1,313.0 L1123.8,311.5 L1122.4,310.0 L1121.1,308.5 L1119.9,307.0 L1118.6,305.5 L1117.4,304.0 L1116.3,302.5 L1115.2,301.0 L1114.1,299.5 L1113.1,298.0 L1112.1,296.5 L1111.1,295.0 L1110.2,293.5 L1109.4,292.0 L1108.6,290.5 L1107.9,289.0 L1107.3,287.5 L1106.7,286.0 L1106.1,284.5 L1105.6,283.0 L1105.1,281.5 L1104.7,280.0 L1104.3,278.5 L1103.9,277.0 L1103.5,275.5 L1103.2,274.0 L1102.9,272.5 L1102.5,271.0 L1102.2,269.5 L1101.9,268.0 L1101.5,266.5 L1101.2,265.0 L1100.9,263.5 L1100.6,262.0 L1100.2,260.5 L1099.9,259.0 L1099.6,257.5 L1099.2,256.0 L1098.9,254.5 L1098.6,253.0 L1098.3,251.5 L1098.0,250.0 L1097.7,248.5 L1097.3,247.0 L1097.0,245.5 L1096.7,244.0 L1096.4,242.5 L1096.2,241.0 L1095.9,239.5 L1095.7,238.0 L1095.4,236.5 L1095.2,235.0 L1095.0,233.5 L1094.8,232.0 L1094.7,230.5 L1094.7,229.0 L1094.7,227.5 L1094.7,226.0 L1094.6,224.5 L1094.6,223.0 L1094.6,221.5 L1094.6,220.0 L1094.6,218.5 L1094.6,217.0 L1094.5,215.5 L1094.5,214.0 L1094.5,212.5 L1094.4,211.0 L1094.4,209.5 L1094.4,208.0 L1094.3,206.5 L1094.3,205.0 L1094.3,203.5 L1094.2,202.0 L1094.2,200.5 L1094.2,199.0 L1094.2,197.5 L1094.1,196.0 L1094.1,194.5 L1094.1,193.0 L1094.1,191.5 L1094.1,190.0 L1094.1,188.5 L1094.1,187.0 L1094.1,185.5 L1094.1,184.0 L1094.1,182.5 L1094.1,181.0 L1094.1,179.5 L1094.1,178.0 L1094.1,176.5 L1094.1,175.0 L1094.1,173.5 L1094.1,172.0 L1094.1,170.5 L1094.1,169.0 L1094.1,167.5 L1093.6,166.0Z" fill="#F8766D"/>
<path d="M1093.6,228.0 L1093.1,229.5 L1093.1,231.0 L1093.1,232.5 L1093.1,234.0 L1093.1,235.5 L1093.1,237.0 L1093.1,238.5 L1093.1,240.0 L1093.1,241.5 L1093.1,243.0 L1093.1,244.5 L1093.1,246.0 L1093.1,247.5 L1093.1,249.0 L1093.1,250.5 L1093.1,252.0 L1093.1,253.5 L1093.1,255.0 L1093.1,256.5 L1093.1,258.0 L1093.1,259.5 L1093.1,261.0 L1093.1,262.5 L1093.1,264.0 L1093.1,265.5 L1093.1,267.0 L1093.1,268.5 L1093.1,270.0 L1093.1,271.5 L1093.1,273.0 L1093.1,274.5 L1093.1,276.0 L1093.1,277.5 L1093.1,279.0 L1093.1,280.5 L1093.1,282.0 L1093.1,283.5 L1093.1,285.0 L1093.1,286.5 L1093.1,288.0 L1093.1,289.5 L1093.1,291.0 L1093.1,292.5 L1093.0,294.0 L1093.0,295.5 L1092.9,297.0 L1092.8,298.5 L1092.7,300.0 L1092.6,301.5 L1092.5,303.0 L1092.4,304.5 L1092.2,306.0 L1092.0,307.5 L1091.8,309.0 L1091.7,310.5 L1091.5,312.0 L1091.4,313.5 L1091.2,315.0 L1091.1,316.5 L1090.9,318.0 L1090.8,319.5 L1090.6,321.0 L1090.4,322.5 L1090.2,324.0 L1090.0,325.5 L1089.8,327.0 L1089.5,328.5 L1089.2,330.0 L1089.0,331.5 L1088.7,333.0 L1088.4,334.5 L1088.1,336.0 L1087.9,337.5 L1087.6,339.0 L1087.3,340.5 L1087.0,342.0 L1086.6,343.5 L1086.3,345.0 L1085.9,346.5 L1085.5,348.0 L1085.0,349.5 L1084.5,351.0 L1083.9,352.5 L1083.3,354.0 L1082.7,355.5 L1082.0,357.0 L1081.2,358.5 L1080.5,360.0 L1079.7,361.5 L1078.8,363.0 L1078.0,364.5 L1077.1,366.0 L1076.2,367.5 L1075.3,369.0 L1074.4,370.5 L1073.4,372.0 L1072.4,373.5 L1071.4,375.0 L1070.4,376.5 L1069.4,378.0 L1068.3,379.5 L1067.2,381.0 L1066.1,382.5 L1065.0,384.0 L1063.9,385.5 L1062.7,387.0 L1061.5,388.5 L1060.3,390.0 L1059.1,391.5 L1057.9,393.0 L1056.7,394.5 L1055.4,396.0 L1054.1,397.5 L1052.8,399.0 L1051.5,400.5 L1050.2,402.0 L1048.8,403.5 L1047.5,405.0 L1046.1,406.5 L1044.7,408.0 L1043.3,409.5 L1041.8,411.0 L1040.4,412.5 L1038.9,414.0 L1037.5,415.5 L1036.0,417.0 L1034.5,418.5 L1033.0,420.0 L1031.4,421.5 L1029.9,423.0 L1028.3,424.5 L1026.8,426.0 L1025.2,427.5 L1023.6,429.0 L1022.0,430.5 L1020.4,432.0 L1018.7,433.5 L1017.1,435.0 L1015.4,436.5 L1013.8,438.0 L1012.1,439.5 L1010.4,441.0 L1008.7,442.5 L1007.0,444.0 L1005.3,445.5 L1003.6,447.0 L1001.9,448.5 L1000.2,450.0 L998.6,451.5 L996.9,453.0 L995.3,454.5 L993.7,456.0 L992.1,457.5 L990.6,459.0 L989.1,460.5 L987.6,462.0 L986.1,463.5 L984.7,465.0 L983.4,466.5 L982.1,468.0 L980.9,469.5 L979.7,471.0 L978.6,472.5 L977.5,474.0 L976.6,475.5 L975.7,477.0 L974.8,478.5 L974.1,480.0 L973.5,481.5 L972.9,483.0 L972.4,484.5 L972.1,486.0 L971.8,487.5 L971.6,489.0 L971.6,490.5 L971.7,492.0 L971.9,493.5 L972.2,495.0 L972.6,496.5 L973.2,498.0 L973.9,499.5 L974.7,501.0 L975.7,502.5 L976.8,504.0 L978.0,505.5 L979.4,507.0 L980.9,508.5 L982.4,510.0 L984.0,511.5 L985.6,513.0 L987.2,514.5 L988.8,516.0 L990.3,517.5 L991.8,519.0 L993.2,520.5 L994.5,522.0 L995.8,523.5 L997.1,525.0 L998.4,526.5 L999.7,528.0 L1000.9,529.5 L1002.2,531.0 L1003.5,532.5 L1004.8,534.0 L1006.1,535.5 L1007.4,537.0 L1008.8,538.5 L1010.3,540.0 L1011.8,541.5 L1013.3,543.0 L1014.9,544.5 L1016.5,546.0 L1018.1,547.5 L1019.8,549.0 L1021.4,550.5 L1023.0,552.0 L1024.6,553.5 L1026.1,555.0 L1027.6,556.5 L1029.2,558.0 L1030.7,559.5 L1032.2,561.0 L1033.7,562.5 L1035.2,564.0 L1036.8,565.5 L1038.3,567.0 L1039.9,568.5 L1041.5,570.0 L1043.1,571.5 L1044.8,573.0 L1046.4,574.5 L1048.0,576.0 L1049.6,577.5 L1051.2,579.0 L1052.8,580.5 L1054.3,582.0 L1055.9,583.5 L1057.4,585.0 L1058.8,586.5 L1060.3,588.0 L1061.6,589.5 L1063.0,591.0 L1064.3,592.5 L1065.5,594.0 L1066.7,595.5 L1067.9,597.0 L1069.0,598.5 L1070.1,600.0 L1071.2,601.5 L1072.2,603.0 L1073.2,604.5 L1074.2,606.0 L1075.1,607.5 L1076.0,609.0 L1076.8,610.5 L1077.7,612.0 L1078.4,613.5 L1079.2,615.0 L1079.9,616.5 L1080.6,618.0 L1081.3,619.5 L1082.0,621.0 L1082.6,622.5 L1083.2,624.0 L1083.7,625.5 L1084.3,627.0 L1084.8,628.5 L1085.3,630.0 L1085.8,631.5 L1086.2,633.0 L1086.6,634.5 L1087.1,636.0 L1087.4,637.5 L1087.8,639.0 L1088.1,640.5 L1088.5,642.0 L1088.8,643.5 L1089.1,645.0 L1089.4,646.5 L1089.6,648.0 L1089.9,649.5 L1090.1,651.0 L1090.3,652.5 L1090.6,654.0 L1090.8,655.5 L1091.0,657.0 L1091.2,658.5 L1091.3,660.0 L1091.5,661.5 L1091.7,663.0 L1091.8,664.5 L1091.9,666.0 L1092.0,667.5 L1092.1,669.0 L1092.2,670.5 L1092.3,672.0 L1092.4,673.5 L1092.4,675.0 L1092.5,676.5 L1092.5,678.0 L1092.6,679.5 L1092.6,681.0 L1092.7,682.5 L1092.7,684.0 L1092.8,685.5 L1092.9,687.0 L1093.0,688.5 L1093.1,690.0 L1093.1,691.5 L1093.1,693.0 L1093.1,694.5 L1093.1,696.0 L1093.1,697.5 L1093.6,699.0 L1093.6,699.0 L1094.1,697.5 L1094.1,696.0 L1094.1,694.5 L1094.1,693.0 L1094.1,691.5 L1094.1,690.0 L1094.2,688.5 L1094.3,687.0 L1094.4,685.5 L1094.5,684.0 L1094.5,682.5 L1094.6,681.0 L1094.6,679.5 L1094.7,678.0 L1094.7,676.5 L1094.8,675.0 L1094.8,673.5 L1094.9,672.0 L1095.0,670.5 L1095.1,669.0 L1095.2,667.5 L1095.3,666.0 L1095.4,664.5 L1095.5,663.0 L1095.7,661.5 L1095.9,660.0 L1096.0,658.5 L1096.2,657.0 L1096.4,655.5 L1096.6,654.0 L1096.9,652.5 L1097.1,651.0 L1097.3,649.5 L1097.6,648.0 L1097.8,646.5 L1098.1,645.0 L1098.4,643.5 L1098.7,642.0 L1099.1,640.5 L1099.4,639.0 L1099.8,637.5 L1100.1,636.0 L1100.6,634.5 L1101.0,633.0 L1101.4,631.5 L1101.9,630.0 L1102.4,628.5 L1102.9,627.0 L1103.5,625.5 L1104.0,624.0 L1104.6,622.5 L1105.2,621.0 L1105.9,619.5 L1106.6,618.0 L1107.3,616.5 L1108.0,615.0 L1108.8,613.5 L1109.5,612.0 L1110.4,610.5 L1111.2,609.0 L1112.1,607.5 L1113.0,606.0 L1114.0,604.5 L1115.0,603.0 L1116.0,601.5 L1117.1,600.0 L1118.2,598.5 L1119.3,597.0 L1120.5,595.5 L1121.7,594.0 L1122.9,592.5 L1124.2,591.0 L1125.6,589.5 L1126.9,588.0 L1128.4,586.5 L1129.8,585.0 L1131.3,583.5 L1132.9,582.0 L1134.4,580.5 L1136.0,579.0 L1137.6,577.5 L1139.2,576.0 L1140.8,574.5 L1142.4,573.0 L1144.1,571.5 L1145.7,570.0 L1147.3,568.5 L1148.9,567.0 L1150.4,565.5 L1152.0,564.0 L1153.5,562.5 L1155.0,561.0 L1156.5,559.5 L1158.0,558.0 L1159.6,556.5 L1161.1,555.0 L1162.6,553.5 L1164.2,552.0 L1165.8,550.5 L1167.4,549.0 L1169.1,547.5 L1170.7,546.0 L1172.3,544.5 L1173.9,543.0 L1175.4,541.5 L1176.9,540.0 L1178.4,538.5 L1179.8,537.0 L1181.1,535.5 L1182.4,534.0 L1183.7,532.5 L1185.0,531.0 L1186.3,529.5 L1187.5,528.0 L1188.8,526.5 L1190.1,525.0 L1191.4,523.5 L1192.7,522.0 L1194.0,520.5 L1195.4,519.0 L1196.9,517.5 L1198.4,516.0 L1200.0,514.5 L1201.6,513.0 L1203.2,511.5 L1204.8,510.0 L1206.3,508.5 L1207.8,507.0 L1209.2,505.5 L1210.4,504.0 L1211.5,502.5 L1212.5,501.0 L1213.3,499.5 L1214.0,498.0 L1214.6,496.5 L1215.0,495.0 L1215.3,493.5 L1215.5,492.0 L1215.6,490.5 L1215.6,489.0 L1215.4,487.5 L1215.1,486.0 L1214.8,484.5 L1214.3,483.0 L1213.7,481.5 L1213.1,480.0 L1212.4,478.5 L1211.5,477.0 L1210.6,475.5 L1209.7,474.0 L1208.6,472.5 L1207.5,471.0 L1206.3,469.5 L1205.1,468.0 L1203.8,466.5 L1202.5,465.0 L1201.1,463.5 L1199.6,462.0 L1198.1,460.5 L1196.6,459.0 L1195.1,457.5 L1193.5,456.0 L1191.9,454.5 L1190.3,453.0 L1188.6,451.5 L1187.0,450.0 L1185.3,448.5 L1183.6,447.0 L1181.9,445.5 L1180.2,444.0 L1178.5,442.5 L1176.8,441.0 L1175.1,439.5 L1173.4,438.0 L1171.8,436.5 L1170.1,435.0 L1168.5,433.5 L1166.8,432.0 L1165.2,430.5 L1163.6,429.0 L1162.0,427.5 L1160.4,426.0 L1158.9,424.5 L1157.3,423.0 L1155.8,421.5 L1154.2,420.0 L1152.7,418.5 L1151.2,417.0 L1149.7,415.5 L1148.3,414.0 L1146.8,412.5 L1145.4,411.0 L1143.9,409.5 L1142.5,408.0 L1141.1,406.5 L1139.7,405.0 L1138.4,403.5 L1137.0,402.0 L1135.7,400.5 L1134.4,399.0 L1133.1,397.5 L1131.8,396.0 L1130.5,394.5 L1129.3,393.0 L1128.1,391.5 L1126.9,390.0 L1125.7,388.5 L1124.5,387.0 L1123.3,385.5 L1122.2,384.0 L1121.1,382.5 L1120.0,381.0 L1118.9,379.5 L1117.8,378.0 L1116.8,376.5 L1115.8,375.0 L1114.8,373.5 L1113.8,372.0 L1112.8,370.5 L1111.9,369.0 L1111.0,367.5 L1110.1,366.0 L1109.2,364.5 L1108.4,363.0 L1107.5,361.5 L1106.7,360.0 L1106.0,358.5 L1105.2,357.0 L1104.5,355.5 L1103.9,354.0 L1103.3,352.5 L1102.7,351.0 L1102.2,349.5 L1101.7,348.0 L1101.3,346.5 L1100.9,345.0 L1100.6,343.5 L1100.2,342.0 L1099.9,340.5 L1099.6,339.0 L1099.3,337.5 L1099.1,336.0 L1098.8,334.5 L1098.5,333.0 L1098.2,331.5 L1098.0,330.0 L1097.7,328.5 L1097.4,327.0 L1097.2,325.5 L1097.0,324.0 L1096.8,322.5 L1096.6,321.0 L1096.4,319.5 L1096.3,318.0 L1096.1,316.5 L1096.0,315.0 L1095.8,313.5 L1095.7,312.0 L1095.5,310.5 L1095.4,309.0 L1095.2,307.5 L1095.0,306.0 L1094.8,304.5 L1094.7,303.0 L1094.6,301.5 L1094.5,300.0 L1094.4,298.5 L1094.3,297.0 L1094.2,295.5 L1094.2,294.0 L1094.1,292.5 L1094.1,291.0 L1094.1,289.5 L1094.1,288.0 L1094.1,286.5 L1094.1,285.0 L1094.1,283.5 L1094.1,282.0 L1094.1,280.5 L1094.1,279.0 L1094.1,277.5 L1094.1,276.0 L1094.1,274.5 L1094.1,273.0 L1094.1,271.5 L1094.1,270.0 L1094.1,268.5 L1094.1,267.0 L1094.1,265.5 L1094.1,264.0 L1094.1,262.5 L1094.1,261.0 L1094.1,259.5 L1094.1,258.0 L1094.1,256.5 L1094.1,255.0 L1094.1,253.5 L1094.1,252.0 L1094.1,250.5 L1094.1,249.0 L1094.1,247.5 L1094.1,246.0 L1094.1,244.5 L1094.1,243.0 L1094.1,241.5 L1094.1,240.0 L1094.1,238.5 L1094.1,237.0 L1094.1,235.5 L1094.1,234.0 L1094.1,232.5 L1094.1,231.0 L1094.1,229.5 L1093.6,228.0Z" fill="#00BFC4"/>
<rect x="849.3" y="636.3" width="0.9" height="9.8" fill="#F8766D"/>
</g>
<line x1="132.8" x2="144.1" y1="96.50" y2="96.50" stroke="#333" stroke-width="4.8"/>
<text transform="translate(123.3,108.4) scale(0.965,1)" font-size="35.2" fill="#4D4D4D" text-anchor="end">650</text>
<line x1="132.8" x2="144.1" y1="219.14" y2="219.14" stroke="#333" stroke-width="4.8"/>
<text transform="translate(123.3,231.0) scale(0.965,1)" font-size="35.2" fill="#4D4D4D" text-anchor="end">625</text>
<line x1="132.8" x2="144.1" y1="341.78" y2="341.78" stroke="#333" stroke-width="4.8"/>
<text transform="translate(123.3,353.7) scale(0.965,1)" font-size="35.2" fill="#4D4D4D" text-anchor="end">600</text>
<line x1="132.8" x2="144.1" y1="464.42" y2="464.42" stroke="#333" stroke-width="4.8"/>
<text transform="translate(123.3,476.3) scale(0.965,1)" font-size="35.2" fill="#4D4D4D" text-anchor="end">575</text>
<line x1="132.8" x2="144.1" y1="587.06" y2="587.06" stroke="#333" stroke-width="4.8"/>
<text transform="translate(123.3,599.0) scale(0.965,1)" font-size="35.2" fill="#4D4D4D" text-anchor="end">550</text>
<line x1="132.8" x2="144.1" y1="709.70" y2="709.70" stroke="#333" stroke-width="4.8"/>
<text transform="translate(123.3,721.6) scale(0.965,1)" font-size="35.2" fill="#4D4D4D" text-anchor="end">525</text>
<line x1="290.5" x2="290.5" y1="729.8" y2="740.8" stroke="#333" stroke-width="4.8"/>
<text x="289.2" y="773.2" font-size="33" fill="#4D4D4D" text-anchor="middle">Low</text>
<text x="290.5" y="810.1" font-size="33" fill="#4D4D4D" text-anchor="middle">Alerting</text>
<line x1="534.5" x2="534.5" y1="729.8" y2="740.8" stroke="#333" stroke-width="4.8"/>
<text x="534.2" y="773.2" font-size="33" fill="#4D4D4D" text-anchor="middle">High</text>
<text x="534.5" y="810.1" font-size="33" fill="#4D4D4D" text-anchor="middle">Alerting</text>
<line x1="849.8" x2="849.8" y1="729.8" y2="740.8" stroke="#333" stroke-width="4.8"/>
<text x="849.4" y="773.2" font-size="33" fill="#4D4D4D" text-anchor="middle">Low</text>
<text x="849.8" y="810.1" font-size="33" fill="#4D4D4D" text-anchor="middle">Alerting</text>
<line x1="1093.7" x2="1093.7" y1="729.8" y2="740.8" stroke="#333" stroke-width="4.8"/>
<text x="1093.4" y="773.2" font-size="33" fill="#4D4D4D" text-anchor="middle">High</text>
<text x="1093.7" y="810.1" font-size="33" fill="#4D4D4D" text-anchor="middle">Alerting</text>
<text x="411.7" y="25.8" font-size="33.7" fill="#1A1A1A" text-anchor="middle">Session 1</text>
<text x="971.8" y="25.8" font-size="33.7" fill="#1A1A1A" text-anchor="middle">Session 2</text>
<text transform="translate(33.2,395) rotate(-90) scale(0.938,1)" font-size="44.5" fill="#000" text-anchor="middle">RT (ms)</text>
<text transform="translate(1310.8,329.7) scale(0.938,1)" font-size="44.5" fill="#000">Group</text>
<rect x="1312.8" y="350.4" width="67.2" height="66.2" fill="#F5B4AF"/>
<rect x="1312.8" y="422.5" width="67.2" height="66.4" fill="#79D8DB"/>
<text x="1392.1" y="395.3" font-size="33.5" fill="#000">Urban</text>
<text x="1392.1" y="467.2" font-size="33.5" fill="#000">Nature</text>
</svg>
</body></html>
